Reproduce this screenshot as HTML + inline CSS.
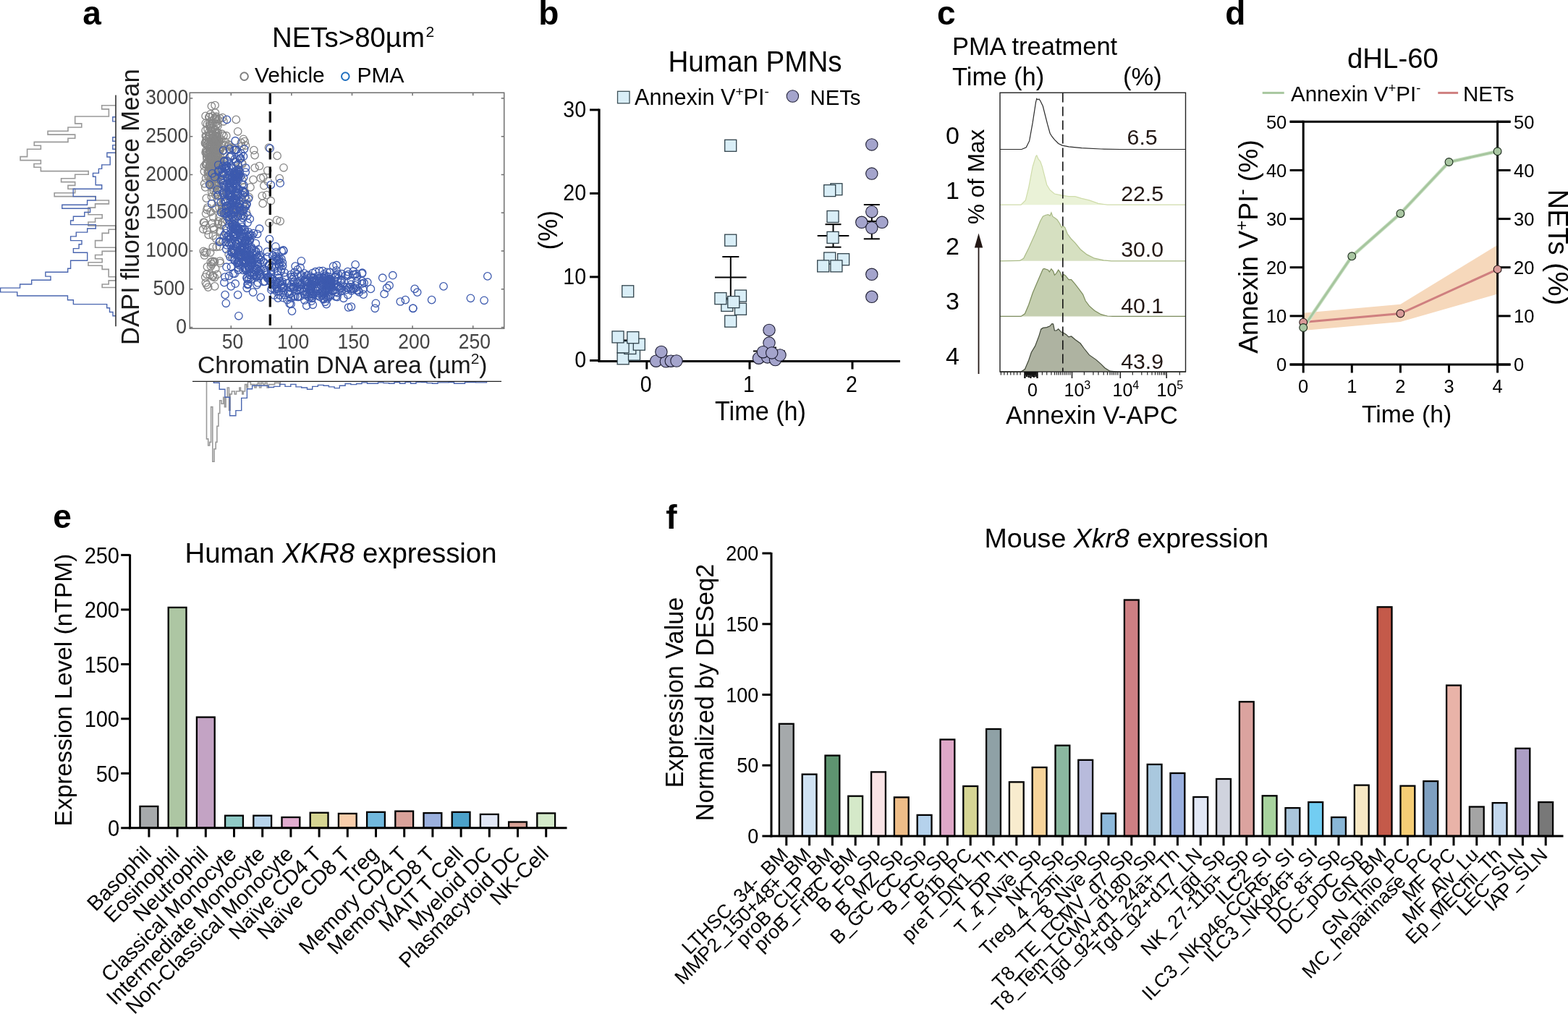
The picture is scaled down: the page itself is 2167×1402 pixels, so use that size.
<!DOCTYPE html>
<html><head><meta charset="utf-8"><title>Figure</title>
<style>html,body{margin:0;padding:0;background:#fff;} svg{display:block;}</style></head>
<body><svg width="2167" height="1402" viewBox="0 0 2167 1402" font-family='"Liberation Sans", Arial, Helvetica, sans-serif'><rect width="2167" height="1402" fill="#fff"/><text font-size="46" x="114.3" y="34.0" font-weight="bold">a</text>
<text font-size="46" x="744.3" y="34.0" font-weight="bold">b</text>
<text font-size="46" x="1295.0" y="34.0" font-weight="bold">c</text>
<text font-size="46" x="1693.3" y="34.0" font-weight="bold">d</text>
<text font-size="46" x="73.3" y="729.8" font-weight="bold">e</text>
<text font-size="46" x="920.2" y="730.8" font-weight="bold">f</text>
<text x="376" y="65.3" font-size="38.4">NETs&gt;80µm<tspan font-size="21" dy="-14" dx="1.5">2</tspan></text>
<circle cx="337.6" cy="105.6" r="5.3" fill="none" stroke="#7f7f7f" stroke-width="2"/>
<text font-size="30" x="352.0" y="114.0">Vehicle</text>
<circle cx="477.3" cy="105.6" r="5.3" fill="none" stroke="#1f6fbf" stroke-width="2"/>
<text font-size="30" x="493.5" y="114.0">PMA</text>
<path d="M160.0,145.7 H140.7 V150.9 H150.4 V161.0 H103.7 V170.9 H112.8 V176.0 H94.0 V181.2 H66.1 V186.1 H103.7 V191.3 H94.0 V196.4 H47.3 V201.2 H56.4 V206.3 H37.6 V216.6 H28.1 V221.6 H56.4 V226.5 H47.0 V231.3 H56.4 V236.6 H122.2 V241.3 H103.7 V246.7 H84.6 V251.6 H103.7 V256.4 H94.0 V261.3 H103.7 V266.7 H75.2 V271.6 H132.2 V277.0 H150.4 V281.9 H131.6 V287.1 H122.0 V296.7 H141.2 V301.8 H131.6 V307.0 H122.0 V312.1 H159.9 V317.2 H150.2 V322.4 H141.2 V332.6 H131.6 V342.3 H159.9 V347.4 H141.2 V352.5 H131.6 V357.7 H141.2 V362.8 H122.0 V367.3 H141.2 V372.4 H150.2 V382.7 H159.9 V387.9 H150.2 V393.0 H141.2 V397.5 H160.0" stroke="#9a9a9a" stroke-width="1.6" fill="none"/>
<path d="M160,161.8 H155.8 V167.9 H160" stroke="#4a66b0" stroke-width="1.4" fill="none"/>
<path d="M160,189.7 H155.8 V195.2 H160" stroke="#4a66b0" stroke-width="1.4" fill="none"/>
<path d="M160,200.6 H155.8 V206.3 H160" stroke="#4a66b0" stroke-width="1.4" fill="none"/>
<path d="M160.0,211.2 H147.9 V217.0 H152.2 V227.9 H140.7 V233.4 H136.4 V239.4 H128.5 V244.3 H132.2 V255.8 H140.7 V261.3 H101.2 V271.6 H132.2 V277.0 H120.6 V283.2 H85.8 V288.3 H124.6 V293.5 H116.8 V299.3 H101.4 V305.0 H97.6 V310.6 H132.3 V316.0 H120.7 V321.1 H105.3 V326.9 H97.6 V332.6 H113.0 V337.8 H109.1 V343.6 H101.4 V349.3 H120.7 V360.3 H97.6 V371.2 H93.7 V376.3 H62.9 V382.1 H70.0 V387.2 H43.7 V393.0 H27.6 V398.1 H0.6 V403.9 H23.8 V409.0 H93.5 V414.8 H101.4 V420.6 H147.7 V425.7 H151.5 V431.5 H156.0 V436.7 H160.0" stroke="#4a66b0" stroke-width="1.4" fill="none"/>
<line x1="160.0" y1="131.5" x2="160.0" y2="451.2" stroke="#333" stroke-width="1.6"/>
<path d="M285.5,527.4 V606.9 H287.7 V616.0 H289.7 V611.4 H291.6 V562.6 H293.8 V638.2 H296.0 V620.8 H298.2 V611.4 H299.9 V589.2 H301.9 V571.5 H303.7 V553.8 H306.0 V558.2 H308.7 V549.3 H310.4 V562.6 H312.1 V549.3 H314.3 V536.0 H316.5 V567.1 H318.1 V544.9 H320.4 V541.0 H324.2 V544.9 H326.5 V541.0 H330.9 V536.0 H332.5 V540.5 H334.8 V544.9 H336.4 V541.0 H338.6 V531.6 H340.9 V536.0 H342.5 V528.3 H346.4 V531.6 H351.9 V536.0 H354.1 V531.6 H356.4 V529.4 H358.6 V536.0 H360.8 V529.4 H363.6 V531.6 H366.3 V529.4 H369.1 V536.0 H371.3 V531.6 H379.6 V529.4 H386.3 V531.6 H387.4 V527.4" stroke="#9a9a9a" stroke-width="1.6" fill="none"/>
<path d="M295.4,527.4 V529.2 H303.2 V538.3 H310.9 V549.3 H317.6 V574.8 H325.9 V567.6 H333.7 V550.4 H341.4 V537.7 H348.6 V533.3 H370.8 V535.5 H378.5 V534.4 H386.8 V531.4 H394.0 V534.4 H401.8 V531.4 H409.0 V534.9 H416.7 V536.0 H424.5 V538.3 H431.7 V534.4 H439.4 V532.4 H447.2 V533.3 H454.4 V534.9 H462.1 V536.6 H469.3 V533.3 H477.1 V530.5 H484.8 V531.6 H492.6 V530.5 H500.0 V528.9 H507.5 V530.2 H515.0 V530.2 H522.5 V528.9 H530.0 V529.6 H537.5 V530.2 H545.0 V528.6 H552.5 V530.2 H560.0 V528.2 H567.5 V530.2 H575.0 V528.2 H582.5 V528.6 H590.0 V529.6 H597.5 V530.2 H605.0 V528.9 H612.5 V528.9 H620.0 V528.6 H627.5 V530.2 H635.0 V530.2 H642.5 V528.6 H650.0 V528.6 H657.5 V528.9 H665.0 V528.9 H672.5 V527.4" stroke="#4a66b0" stroke-width="1.4" fill="none"/>
<line x1="266.0" y1="527.4" x2="693.0" y2="527.4" stroke="#222" stroke-width="1.4"/>
<g fill="none" stroke="#878787" stroke-width="1.3"><circle cx="295.0" cy="213.7" r="5.2"/><circle cx="304.3" cy="227.6" r="5.2"/><circle cx="303.4" cy="205.3" r="5.2"/><circle cx="291.2" cy="250.8" r="5.2"/><circle cx="292.7" cy="217.1" r="5.2"/><circle cx="291.1" cy="221.9" r="5.2"/><circle cx="298.8" cy="229.9" r="5.2"/><circle cx="294.4" cy="177.6" r="5.2"/><circle cx="300.0" cy="189.0" r="5.2"/><circle cx="305.8" cy="262.3" r="5.2"/><circle cx="294.1" cy="223.2" r="5.2"/><circle cx="299.5" cy="203.0" r="5.2"/><circle cx="293.8" cy="223.4" r="5.2"/><circle cx="292.1" cy="196.5" r="5.2"/><circle cx="298.0" cy="221.4" r="5.2"/><circle cx="300.5" cy="190.4" r="5.2"/><circle cx="293.3" cy="221.3" r="5.2"/><circle cx="293.7" cy="160.6" r="5.2"/><circle cx="299.6" cy="255.8" r="5.2"/><circle cx="288.6" cy="195.4" r="5.2"/><circle cx="284.1" cy="160.4" r="5.2"/><circle cx="297.5" cy="204.9" r="5.2"/><circle cx="290.0" cy="200.1" r="5.2"/><circle cx="289.0" cy="217.2" r="5.2"/><circle cx="291.5" cy="174.7" r="5.2"/><circle cx="286.4" cy="225.2" r="5.2"/><circle cx="284.3" cy="170.3" r="5.2"/><circle cx="295.0" cy="223.3" r="5.2"/><circle cx="301.1" cy="202.1" r="5.2"/><circle cx="293.1" cy="218.5" r="5.2"/><circle cx="289.5" cy="174.5" r="5.2"/><circle cx="297.5" cy="227.3" r="5.2"/><circle cx="299.8" cy="211.0" r="5.2"/><circle cx="292.7" cy="265.8" r="5.2"/><circle cx="298.6" cy="189.1" r="5.2"/><circle cx="302.1" cy="217.9" r="5.2"/><circle cx="293.3" cy="187.2" r="5.2"/><circle cx="289.0" cy="182.6" r="5.2"/><circle cx="297.2" cy="211.1" r="5.2"/><circle cx="296.5" cy="210.8" r="5.2"/><circle cx="302.5" cy="239.9" r="5.2"/><circle cx="285.7" cy="216.5" r="5.2"/><circle cx="290.1" cy="187.4" r="5.2"/><circle cx="288.9" cy="219.2" r="5.2"/><circle cx="282.6" cy="253.9" r="5.2"/><circle cx="295.6" cy="207.6" r="5.2"/><circle cx="298.5" cy="183.6" r="5.2"/><circle cx="289.6" cy="232.6" r="5.2"/><circle cx="304.5" cy="206.6" r="5.2"/><circle cx="300.5" cy="275.5" r="5.2"/><circle cx="299.2" cy="242.7" r="5.2"/><circle cx="297.6" cy="241.4" r="5.2"/><circle cx="301.5" cy="218.3" r="5.2"/><circle cx="285.4" cy="210.9" r="5.2"/><circle cx="299.1" cy="223.4" r="5.2"/><circle cx="299.0" cy="254.7" r="5.2"/><circle cx="282.3" cy="229.7" r="5.2"/><circle cx="297.2" cy="200.7" r="5.2"/><circle cx="293.0" cy="254.0" r="5.2"/><circle cx="300.2" cy="218.5" r="5.2"/><circle cx="291.7" cy="209.7" r="5.2"/><circle cx="294.6" cy="186.3" r="5.2"/><circle cx="297.2" cy="193.7" r="5.2"/><circle cx="288.6" cy="191.4" r="5.2"/><circle cx="299.0" cy="245.5" r="5.2"/><circle cx="294.0" cy="230.8" r="5.2"/><circle cx="298.2" cy="205.2" r="5.2"/><circle cx="291.1" cy="246.5" r="5.2"/><circle cx="302.4" cy="226.6" r="5.2"/><circle cx="299.0" cy="224.4" r="5.2"/><circle cx="293.5" cy="204.6" r="5.2"/><circle cx="299.2" cy="229.7" r="5.2"/><circle cx="303.6" cy="265.0" r="5.2"/><circle cx="307.3" cy="272.5" r="5.2"/><circle cx="283.7" cy="258.9" r="5.2"/><circle cx="301.0" cy="174.2" r="5.2"/><circle cx="298.0" cy="230.9" r="5.2"/><circle cx="294.1" cy="213.1" r="5.2"/><circle cx="287.7" cy="243.8" r="5.2"/><circle cx="303.6" cy="208.1" r="5.2"/><circle cx="285.9" cy="219.4" r="5.2"/><circle cx="298.7" cy="163.1" r="5.2"/><circle cx="303.9" cy="226.9" r="5.2"/><circle cx="283.5" cy="197.7" r="5.2"/><circle cx="292.6" cy="223.7" r="5.2"/><circle cx="285.6" cy="227.3" r="5.2"/><circle cx="296.5" cy="208.4" r="5.2"/><circle cx="305.4" cy="222.6" r="5.2"/><circle cx="309.0" cy="211.8" r="5.2"/><circle cx="282.3" cy="237.1" r="5.2"/><circle cx="290.7" cy="228.7" r="5.2"/><circle cx="299.7" cy="194.3" r="5.2"/><circle cx="305.8" cy="193.0" r="5.2"/><circle cx="297.7" cy="269.3" r="5.2"/><circle cx="289.5" cy="208.9" r="5.2"/><circle cx="296.8" cy="244.7" r="5.2"/><circle cx="294.6" cy="225.1" r="5.2"/><circle cx="293.3" cy="193.8" r="5.2"/><circle cx="289.6" cy="187.7" r="5.2"/><circle cx="297.5" cy="216.2" r="5.2"/><circle cx="296.9" cy="220.6" r="5.2"/><circle cx="294.1" cy="232.4" r="5.2"/><circle cx="293.2" cy="170.7" r="5.2"/><circle cx="285.7" cy="192.8" r="5.2"/><circle cx="291.3" cy="209.1" r="5.2"/><circle cx="303.2" cy="264.7" r="5.2"/><circle cx="293.4" cy="226.6" r="5.2"/><circle cx="284.7" cy="194.5" r="5.2"/><circle cx="304.1" cy="226.4" r="5.2"/><circle cx="298.5" cy="196.1" r="5.2"/><circle cx="309.6" cy="224.2" r="5.2"/><circle cx="295.2" cy="263.5" r="5.2"/><circle cx="291.5" cy="223.8" r="5.2"/><circle cx="284.6" cy="226.4" r="5.2"/><circle cx="304.0" cy="224.4" r="5.2"/><circle cx="312.8" cy="187.7" r="5.2"/><circle cx="289.0" cy="230.0" r="5.2"/><circle cx="290.2" cy="205.4" r="5.2"/><circle cx="298.9" cy="185.6" r="5.2"/><circle cx="288.9" cy="211.0" r="5.2"/><circle cx="292.9" cy="204.8" r="5.2"/><circle cx="292.3" cy="236.9" r="5.2"/><circle cx="296.1" cy="210.8" r="5.2"/><circle cx="302.4" cy="194.9" r="5.2"/><circle cx="294.9" cy="259.9" r="5.2"/><circle cx="301.2" cy="244.6" r="5.2"/><circle cx="291.8" cy="253.8" r="5.2"/><circle cx="297.1" cy="232.1" r="5.2"/><circle cx="284.6" cy="208.6" r="5.2"/><circle cx="300.3" cy="198.5" r="5.2"/><circle cx="290.6" cy="203.1" r="5.2"/><circle cx="298.8" cy="243.3" r="5.2"/><circle cx="298.6" cy="215.9" r="5.2"/><circle cx="304.0" cy="163.7" r="5.2"/><circle cx="300.5" cy="211.0" r="5.2"/><circle cx="301.9" cy="165.8" r="5.2"/><circle cx="294.0" cy="217.7" r="5.2"/><circle cx="289.9" cy="172.8" r="5.2"/><circle cx="289.6" cy="170.8" r="5.2"/><circle cx="291.3" cy="216.1" r="5.2"/><circle cx="286.8" cy="209.7" r="5.2"/><circle cx="290.9" cy="157.8" r="5.2"/><circle cx="294.1" cy="236.7" r="5.2"/><circle cx="296.5" cy="163.7" r="5.2"/><circle cx="292.4" cy="271.8" r="5.2"/><circle cx="294.2" cy="189.7" r="5.2"/><circle cx="296.3" cy="196.0" r="5.2"/><circle cx="302.4" cy="206.4" r="5.2"/><circle cx="298.8" cy="164.9" r="5.2"/><circle cx="290.2" cy="254.8" r="5.2"/><circle cx="289.7" cy="228.4" r="5.2"/><circle cx="308.9" cy="187.6" r="5.2"/><circle cx="300.1" cy="203.2" r="5.2"/><circle cx="307.6" cy="162.6" r="5.2"/><circle cx="309.7" cy="200.8" r="5.2"/><circle cx="289.0" cy="242.9" r="5.2"/><circle cx="297.5" cy="156.0" r="5.2"/><circle cx="298.0" cy="197.9" r="5.2"/><circle cx="298.7" cy="217.0" r="5.2"/><circle cx="298.6" cy="246.6" r="5.2"/><circle cx="296.2" cy="256.4" r="5.2"/><circle cx="296.0" cy="197.3" r="5.2"/><circle cx="284.2" cy="188.0" r="5.2"/><circle cx="293.6" cy="227.0" r="5.2"/><circle cx="289.5" cy="200.3" r="5.2"/><circle cx="295.6" cy="202.1" r="5.2"/><circle cx="291.5" cy="247.6" r="5.2"/><circle cx="299.1" cy="267.6" r="5.2"/><circle cx="300.5" cy="220.9" r="5.2"/><circle cx="296.9" cy="205.9" r="5.2"/><circle cx="297.0" cy="230.9" r="5.2"/><circle cx="295.4" cy="211.6" r="5.2"/><circle cx="291.6" cy="177.5" r="5.2"/><circle cx="293.6" cy="235.8" r="5.2"/><circle cx="291.3" cy="216.9" r="5.2"/><circle cx="297.5" cy="205.9" r="5.2"/><circle cx="294.9" cy="235.6" r="5.2"/><circle cx="298.8" cy="265.6" r="5.2"/><circle cx="285.4" cy="188.4" r="5.2"/><circle cx="301.0" cy="234.6" r="5.2"/><circle cx="289.4" cy="235.9" r="5.2"/><circle cx="289.6" cy="161.5" r="5.2"/><circle cx="293.4" cy="242.9" r="5.2"/><circle cx="290.8" cy="256.6" r="5.2"/><circle cx="296.8" cy="219.7" r="5.2"/><circle cx="290.7" cy="210.2" r="5.2"/><circle cx="287.2" cy="238.0" r="5.2"/><circle cx="288.8" cy="161.8" r="5.2"/><circle cx="304.0" cy="215.3" r="5.2"/><circle cx="295.1" cy="246.8" r="5.2"/><circle cx="286.6" cy="171.5" r="5.2"/><circle cx="294.8" cy="244.7" r="5.2"/><circle cx="283.8" cy="198.5" r="5.2"/><circle cx="307.3" cy="208.8" r="5.2"/><circle cx="284.1" cy="180.4" r="5.2"/><circle cx="298.1" cy="222.7" r="5.2"/><circle cx="298.6" cy="173.8" r="5.2"/><circle cx="284.6" cy="246.6" r="5.2"/><circle cx="296.9" cy="188.0" r="5.2"/><circle cx="301.8" cy="223.9" r="5.2"/><circle cx="298.0" cy="192.8" r="5.2"/><circle cx="296.6" cy="201.7" r="5.2"/><circle cx="301.4" cy="251.3" r="5.2"/><circle cx="295.9" cy="219.3" r="5.2"/><circle cx="297.1" cy="199.3" r="5.2"/><circle cx="293.9" cy="171.2" r="5.2"/><circle cx="299.2" cy="250.2" r="5.2"/><circle cx="288.1" cy="236.2" r="5.2"/><circle cx="300.3" cy="201.5" r="5.2"/><circle cx="291.2" cy="220.2" r="5.2"/><circle cx="287.1" cy="178.5" r="5.2"/><circle cx="297.3" cy="179.0" r="5.2"/><circle cx="306.6" cy="185.2" r="5.2"/><circle cx="301.5" cy="223.8" r="5.2"/><circle cx="291.1" cy="221.9" r="5.2"/><circle cx="299.7" cy="187.8" r="5.2"/><circle cx="291.6" cy="236.4" r="5.2"/><circle cx="293.9" cy="237.9" r="5.2"/><circle cx="295.4" cy="217.9" r="5.2"/><circle cx="296.1" cy="246.2" r="5.2"/><circle cx="287.5" cy="202.8" r="5.2"/><circle cx="289.9" cy="208.5" r="5.2"/><circle cx="284.4" cy="227.7" r="5.2"/><circle cx="284.1" cy="211.1" r="5.2"/><circle cx="288.1" cy="238.2" r="5.2"/><circle cx="300.6" cy="171.2" r="5.2"/><circle cx="306.5" cy="258.9" r="5.2"/><circle cx="294.6" cy="186.6" r="5.2"/><circle cx="302.4" cy="206.8" r="5.2"/><circle cx="292.9" cy="167.1" r="5.2"/><circle cx="295.8" cy="231.9" r="5.2"/><circle cx="297.9" cy="254.0" r="5.2"/><circle cx="291.7" cy="247.3" r="5.2"/><circle cx="296.9" cy="239.5" r="5.2"/><circle cx="298.8" cy="161.2" r="5.2"/><circle cx="288.7" cy="186.6" r="5.2"/><circle cx="284.4" cy="197.1" r="5.2"/><circle cx="293.2" cy="181.6" r="5.2"/><circle cx="293.3" cy="249.0" r="5.2"/><circle cx="292.3" cy="218.3" r="5.2"/><circle cx="301.7" cy="211.4" r="5.2"/><circle cx="306.9" cy="228.2" r="5.2"/><circle cx="291.8" cy="181.1" r="5.2"/><circle cx="299.7" cy="182.5" r="5.2"/><circle cx="301.4" cy="183.4" r="5.2"/><circle cx="299.8" cy="228.5" r="5.2"/><circle cx="302.1" cy="223.4" r="5.2"/><circle cx="292.0" cy="231.2" r="5.2"/><circle cx="299.9" cy="247.6" r="5.2"/><circle cx="309.0" cy="167.8" r="5.2"/><circle cx="300.4" cy="193.9" r="5.2"/><circle cx="290.4" cy="217.1" r="5.2"/><circle cx="299.0" cy="168.1" r="5.2"/><circle cx="303.6" cy="194.8" r="5.2"/><circle cx="297.3" cy="245.4" r="5.2"/><circle cx="290.8" cy="248.3" r="5.2"/><circle cx="305.6" cy="247.5" r="5.2"/><circle cx="286.0" cy="213.6" r="5.2"/><circle cx="298.3" cy="205.3" r="5.2"/><circle cx="294.6" cy="247.6" r="5.2"/><circle cx="286.4" cy="200.0" r="5.2"/><circle cx="303.3" cy="223.3" r="5.2"/><circle cx="297.2" cy="255.6" r="5.2"/><circle cx="286.6" cy="200.2" r="5.2"/><circle cx="299.0" cy="192.2" r="5.2"/><circle cx="291.7" cy="211.9" r="5.2"/><circle cx="289.9" cy="231.8" r="5.2"/><circle cx="296.6" cy="228.0" r="5.2"/><circle cx="299.2" cy="217.3" r="5.2"/><circle cx="295.9" cy="230.5" r="5.2"/><circle cx="281.2" cy="347.3" r="5.2"/><circle cx="286.4" cy="368.9" r="5.2"/><circle cx="293.6" cy="361.2" r="5.2"/><circle cx="285.9" cy="289.9" r="5.2"/><circle cx="283.0" cy="349.2" r="5.2"/><circle cx="283.9" cy="311.7" r="5.2"/><circle cx="286.0" cy="318.4" r="5.2"/><circle cx="291.2" cy="292.8" r="5.2"/><circle cx="285.2" cy="274.1" r="5.2"/><circle cx="294.1" cy="380.9" r="5.2"/><circle cx="304.3" cy="363.7" r="5.2"/><circle cx="291.4" cy="368.1" r="5.2"/><circle cx="301.4" cy="309.5" r="5.2"/><circle cx="294.4" cy="325.8" r="5.2"/><circle cx="284.6" cy="295.3" r="5.2"/><circle cx="290.6" cy="349.1" r="5.2"/><circle cx="285.5" cy="379.1" r="5.2"/><circle cx="297.8" cy="371.5" r="5.2"/><circle cx="284.3" cy="391.0" r="5.2"/><circle cx="301.7" cy="306.0" r="5.2"/><circle cx="296.5" cy="361.7" r="5.2"/><circle cx="297.9" cy="289.1" r="5.2"/><circle cx="303.3" cy="340.8" r="5.2"/><circle cx="286.9" cy="287.0" r="5.2"/><circle cx="299.3" cy="341.3" r="5.2"/><circle cx="294.2" cy="341.6" r="5.2"/><circle cx="280.8" cy="316.9" r="5.2"/><circle cx="295.8" cy="317.2" r="5.2"/><circle cx="295.2" cy="362.9" r="5.2"/><circle cx="308.5" cy="333.8" r="5.2"/><circle cx="288.2" cy="324.6" r="5.2"/><circle cx="298.2" cy="287.3" r="5.2"/><circle cx="293.2" cy="308.7" r="5.2"/><circle cx="290.1" cy="380.1" r="5.2"/><circle cx="296.7" cy="395.9" r="5.2"/><circle cx="303.9" cy="320.2" r="5.2"/><circle cx="283.7" cy="383.1" r="5.2"/><circle cx="296.4" cy="383.5" r="5.2"/><circle cx="294.8" cy="300.6" r="5.2"/><circle cx="282.4" cy="307.7" r="5.2"/><circle cx="303.8" cy="361.0" r="5.2"/><circle cx="306.1" cy="311.7" r="5.2"/><circle cx="285.7" cy="393.8" r="5.2"/><circle cx="304.6" cy="319.2" r="5.2"/><circle cx="292.8" cy="365.3" r="5.2"/><circle cx="291.3" cy="362.4" r="5.2"/><circle cx="303.0" cy="300.1" r="5.2"/><circle cx="294.0" cy="382.5" r="5.2"/><circle cx="294.7" cy="314.6" r="5.2"/><circle cx="303.1" cy="287.0" r="5.2"/><circle cx="301.5" cy="279.4" r="5.2"/><circle cx="298.7" cy="330.1" r="5.2"/><circle cx="282.6" cy="353.0" r="5.2"/><circle cx="281.4" cy="307.4" r="5.2"/><circle cx="300.3" cy="379.4" r="5.2"/><circle cx="315.6" cy="199.7" r="5.2"/><circle cx="338.0" cy="265.3" r="5.2"/><circle cx="306.6" cy="288.9" r="5.2"/><circle cx="315.4" cy="331.2" r="5.2"/><circle cx="311.4" cy="196.3" r="5.2"/><circle cx="322.6" cy="326.9" r="5.2"/><circle cx="318.8" cy="286.5" r="5.2"/><circle cx="320.5" cy="288.0" r="5.2"/><circle cx="338.2" cy="195.5" r="5.2"/><circle cx="327.7" cy="340.9" r="5.2"/><circle cx="328.7" cy="235.2" r="5.2"/><circle cx="320.3" cy="282.4" r="5.2"/><circle cx="336.5" cy="281.0" r="5.2"/><circle cx="324.7" cy="346.2" r="5.2"/><circle cx="334.1" cy="292.0" r="5.2"/><circle cx="340.6" cy="360.5" r="5.2"/><circle cx="328.9" cy="227.2" r="5.2"/><circle cx="322.1" cy="302.7" r="5.2"/><circle cx="315.5" cy="287.7" r="5.2"/><circle cx="340.5" cy="276.6" r="5.2"/><circle cx="334.8" cy="296.6" r="5.2"/><circle cx="336.2" cy="283.1" r="5.2"/><circle cx="313.8" cy="245.6" r="5.2"/><circle cx="322.1" cy="299.1" r="5.2"/><circle cx="339.4" cy="201.1" r="5.2"/><circle cx="314.8" cy="270.6" r="5.2"/><circle cx="336.7" cy="266.0" r="5.2"/><circle cx="326.1" cy="223.9" r="5.2"/><circle cx="313.7" cy="286.2" r="5.2"/><circle cx="319.8" cy="304.1" r="5.2"/><circle cx="308.2" cy="208.4" r="5.2"/><circle cx="331.3" cy="238.6" r="5.2"/><circle cx="333.3" cy="197.4" r="5.2"/><circle cx="306.4" cy="291.3" r="5.2"/><circle cx="316.9" cy="200.8" r="5.2"/><circle cx="335.0" cy="226.7" r="5.2"/><circle cx="313.0" cy="265.1" r="5.2"/><circle cx="326.0" cy="265.8" r="5.2"/><circle cx="336.4" cy="192.3" r="5.2"/><circle cx="327.3" cy="352.7" r="5.2"/><circle cx="310.0" cy="226.9" r="5.2"/><circle cx="340.4" cy="293.5" r="5.2"/><circle cx="334.1" cy="225.5" r="5.2"/><circle cx="327.1" cy="291.0" r="5.2"/><circle cx="318.1" cy="248.4" r="5.2"/><circle cx="327.8" cy="242.4" r="5.2"/><circle cx="320.4" cy="269.7" r="5.2"/><circle cx="309.9" cy="289.4" r="5.2"/><circle cx="310.0" cy="291.5" r="5.2"/><circle cx="307.0" cy="307.3" r="5.2"/><circle cx="311.9" cy="233.6" r="5.2"/><circle cx="314.8" cy="202.6" r="5.2"/><circle cx="329.8" cy="231.0" r="5.2"/><circle cx="327.7" cy="243.8" r="5.2"/><circle cx="328.1" cy="293.1" r="5.2"/><circle cx="337.0" cy="259.2" r="5.2"/><circle cx="309.0" cy="241.1" r="5.2"/><circle cx="320.3" cy="203.8" r="5.2"/><circle cx="308.3" cy="291.2" r="5.2"/><circle cx="321.5" cy="205.8" r="5.2"/><circle cx="308.3" cy="277.2" r="5.2"/><circle cx="307.8" cy="307.3" r="5.2"/><circle cx="309.3" cy="295.8" r="5.2"/><circle cx="320.3" cy="214.5" r="5.2"/><circle cx="334.7" cy="249.0" r="5.2"/><circle cx="316.2" cy="351.6" r="5.2"/><circle cx="333.9" cy="202.4" r="5.2"/><circle cx="314.3" cy="305.6" r="5.2"/><circle cx="316.4" cy="263.1" r="5.2"/><circle cx="323.5" cy="294.2" r="5.2"/><circle cx="363.2" cy="281.4" r="5.2"/><circle cx="350.0" cy="248.4" r="5.2"/><circle cx="371.5" cy="204.1" r="5.2"/><circle cx="344.2" cy="272.6" r="5.2"/><circle cx="386.3" cy="246.6" r="5.2"/><circle cx="383.1" cy="215.4" r="5.2"/><circle cx="362.3" cy="270.8" r="5.2"/><circle cx="370.3" cy="250.8" r="5.2"/><circle cx="369.8" cy="235.8" r="5.2"/><circle cx="392.0" cy="231.8" r="5.2"/><circle cx="346.0" cy="258.9" r="5.2"/><circle cx="358.5" cy="229.5" r="5.2"/><circle cx="363.9" cy="245.2" r="5.2"/><circle cx="382.6" cy="304.3" r="5.2"/><circle cx="292.4" cy="146.7" r="5.2"/><circle cx="297.1" cy="145.5" r="5.2"/><circle cx="326.3" cy="165.4" r="5.2"/><circle cx="328.7" cy="181.8" r="5.2"/><circle cx="350.9" cy="207.6" r="5.2"/><circle cx="352.1" cy="214.6" r="5.2"/><circle cx="352.1" cy="232.1" r="5.2"/><circle cx="360.3" cy="246.2" r="5.2"/><circle cx="364.9" cy="256.7" r="5.2"/><circle cx="374.3" cy="277.7" r="5.2"/><circle cx="387.2" cy="305.8" r="5.2"/><circle cx="368.5" cy="269.6" r="5.2"/><circle cx="372.0" cy="308.2" r="5.2"/><circle cx="287.7" cy="397.1" r="5.2"/><circle cx="285.4" cy="349.1" r="5.2"/></g><g fill="none" stroke="#3d5aae" stroke-width="1.3"><circle cx="317.2" cy="304.8" r="5.2"/><circle cx="338.6" cy="266.6" r="5.2"/><circle cx="321.6" cy="309.0" r="5.2"/><circle cx="368.9" cy="379.7" r="5.2"/><circle cx="347.3" cy="363.9" r="5.2"/><circle cx="335.0" cy="342.2" r="5.2"/><circle cx="354.9" cy="371.3" r="5.2"/><circle cx="343.1" cy="352.8" r="5.2"/><circle cx="344.4" cy="332.4" r="5.2"/><circle cx="341.9" cy="297.9" r="5.2"/><circle cx="316.3" cy="269.4" r="5.2"/><circle cx="320.6" cy="348.8" r="5.2"/><circle cx="303.3" cy="334.7" r="5.2"/><circle cx="358.2" cy="381.8" r="5.2"/><circle cx="330.5" cy="285.5" r="5.2"/><circle cx="347.3" cy="359.5" r="5.2"/><circle cx="322.3" cy="259.7" r="5.2"/><circle cx="351.9" cy="379.6" r="5.2"/><circle cx="364.4" cy="389.5" r="5.2"/><circle cx="314.9" cy="235.8" r="5.2"/><circle cx="326.9" cy="279.9" r="5.2"/><circle cx="354.1" cy="382.9" r="5.2"/><circle cx="369.3" cy="379.3" r="5.2"/><circle cx="316.1" cy="327.4" r="5.2"/><circle cx="317.9" cy="243.3" r="5.2"/><circle cx="310.7" cy="231.4" r="5.2"/><circle cx="318.2" cy="259.2" r="5.2"/><circle cx="344.5" cy="371.0" r="5.2"/><circle cx="325.5" cy="351.3" r="5.2"/><circle cx="322.6" cy="290.9" r="5.2"/><circle cx="323.8" cy="349.8" r="5.2"/><circle cx="371.6" cy="367.6" r="5.2"/><circle cx="318.5" cy="276.7" r="5.2"/><circle cx="336.7" cy="360.0" r="5.2"/><circle cx="316.7" cy="268.1" r="5.2"/><circle cx="312.6" cy="284.6" r="5.2"/><circle cx="293.4" cy="239.9" r="5.2"/><circle cx="317.4" cy="252.8" r="5.2"/><circle cx="330.5" cy="318.0" r="5.2"/><circle cx="302.3" cy="235.6" r="5.2"/><circle cx="327.4" cy="316.0" r="5.2"/><circle cx="308.2" cy="266.4" r="5.2"/><circle cx="333.4" cy="344.1" r="5.2"/><circle cx="322.8" cy="253.0" r="5.2"/><circle cx="325.6" cy="265.2" r="5.2"/><circle cx="326.3" cy="270.9" r="5.2"/><circle cx="321.3" cy="313.9" r="5.2"/><circle cx="345.6" cy="359.7" r="5.2"/><circle cx="329.6" cy="348.6" r="5.2"/><circle cx="336.8" cy="345.5" r="5.2"/><circle cx="337.5" cy="336.2" r="5.2"/><circle cx="324.3" cy="314.8" r="5.2"/><circle cx="310.7" cy="278.4" r="5.2"/><circle cx="326.3" cy="260.2" r="5.2"/><circle cx="330.5" cy="353.6" r="5.2"/><circle cx="315.7" cy="293.8" r="5.2"/><circle cx="319.0" cy="322.4" r="5.2"/><circle cx="326.3" cy="239.2" r="5.2"/><circle cx="322.0" cy="290.6" r="5.2"/><circle cx="296.6" cy="244.7" r="5.2"/><circle cx="330.8" cy="282.6" r="5.2"/><circle cx="353.2" cy="346.9" r="5.2"/><circle cx="341.0" cy="281.8" r="5.2"/><circle cx="325.0" cy="333.6" r="5.2"/><circle cx="319.9" cy="247.4" r="5.2"/><circle cx="329.1" cy="298.9" r="5.2"/><circle cx="333.3" cy="297.9" r="5.2"/><circle cx="326.8" cy="312.1" r="5.2"/><circle cx="310.5" cy="258.9" r="5.2"/><circle cx="338.4" cy="342.1" r="5.2"/><circle cx="350.4" cy="359.3" r="5.2"/><circle cx="324.1" cy="358.9" r="5.2"/><circle cx="313.6" cy="228.9" r="5.2"/><circle cx="328.6" cy="317.4" r="5.2"/><circle cx="323.3" cy="273.9" r="5.2"/><circle cx="333.1" cy="326.2" r="5.2"/><circle cx="326.1" cy="248.2" r="5.2"/><circle cx="338.0" cy="332.9" r="5.2"/><circle cx="323.5" cy="293.6" r="5.2"/><circle cx="341.3" cy="384.8" r="5.2"/><circle cx="323.0" cy="240.2" r="5.2"/><circle cx="338.4" cy="285.4" r="5.2"/><circle cx="345.3" cy="302.7" r="5.2"/><circle cx="337.8" cy="352.1" r="5.2"/><circle cx="333.8" cy="341.4" r="5.2"/><circle cx="334.5" cy="254.9" r="5.2"/><circle cx="336.8" cy="288.9" r="5.2"/><circle cx="336.3" cy="345.0" r="5.2"/><circle cx="331.6" cy="294.1" r="5.2"/><circle cx="314.4" cy="269.2" r="5.2"/><circle cx="357.5" cy="378.2" r="5.2"/><circle cx="330.7" cy="364.8" r="5.2"/><circle cx="322.1" cy="280.1" r="5.2"/><circle cx="326.2" cy="324.0" r="5.2"/><circle cx="346.9" cy="367.7" r="5.2"/><circle cx="300.2" cy="262.4" r="5.2"/><circle cx="340.3" cy="373.6" r="5.2"/><circle cx="347.9" cy="377.2" r="5.2"/><circle cx="331.9" cy="340.7" r="5.2"/><circle cx="326.8" cy="338.2" r="5.2"/><circle cx="334.8" cy="344.0" r="5.2"/><circle cx="334.0" cy="318.3" r="5.2"/><circle cx="336.5" cy="327.1" r="5.2"/><circle cx="312.7" cy="267.1" r="5.2"/><circle cx="327.9" cy="319.0" r="5.2"/><circle cx="327.0" cy="338.2" r="5.2"/><circle cx="317.2" cy="310.9" r="5.2"/><circle cx="315.7" cy="335.3" r="5.2"/><circle cx="324.3" cy="310.7" r="5.2"/><circle cx="328.0" cy="343.0" r="5.2"/><circle cx="353.3" cy="336.5" r="5.2"/><circle cx="317.4" cy="252.8" r="5.2"/><circle cx="332.6" cy="351.9" r="5.2"/><circle cx="318.3" cy="270.8" r="5.2"/><circle cx="336.6" cy="245.4" r="5.2"/><circle cx="309.7" cy="255.6" r="5.2"/><circle cx="321.3" cy="277.3" r="5.2"/><circle cx="319.2" cy="316.1" r="5.2"/><circle cx="321.8" cy="280.8" r="5.2"/><circle cx="320.3" cy="261.3" r="5.2"/><circle cx="345.6" cy="349.0" r="5.2"/><circle cx="309.9" cy="294.8" r="5.2"/><circle cx="342.8" cy="359.0" r="5.2"/><circle cx="337.4" cy="266.2" r="5.2"/><circle cx="325.7" cy="341.0" r="5.2"/><circle cx="321.8" cy="278.6" r="5.2"/><circle cx="330.5" cy="352.5" r="5.2"/><circle cx="303.9" cy="333.7" r="5.2"/><circle cx="329.4" cy="335.4" r="5.2"/><circle cx="330.0" cy="244.1" r="5.2"/><circle cx="329.2" cy="347.4" r="5.2"/><circle cx="305.3" cy="279.6" r="5.2"/><circle cx="335.8" cy="361.9" r="5.2"/><circle cx="339.6" cy="355.3" r="5.2"/><circle cx="328.9" cy="246.9" r="5.2"/><circle cx="325.8" cy="224.6" r="5.2"/><circle cx="331.5" cy="345.2" r="5.2"/><circle cx="366.0" cy="389.1" r="5.2"/><circle cx="329.4" cy="369.7" r="5.2"/><circle cx="335.8" cy="301.3" r="5.2"/><circle cx="340.1" cy="356.5" r="5.2"/><circle cx="327.7" cy="244.8" r="5.2"/><circle cx="328.2" cy="240.6" r="5.2"/><circle cx="325.3" cy="313.1" r="5.2"/><circle cx="325.4" cy="316.5" r="5.2"/><circle cx="329.2" cy="355.8" r="5.2"/><circle cx="301.0" cy="270.2" r="5.2"/><circle cx="324.1" cy="302.8" r="5.2"/><circle cx="370.1" cy="384.9" r="5.2"/><circle cx="311.9" cy="278.1" r="5.2"/><circle cx="331.3" cy="287.7" r="5.2"/><circle cx="329.7" cy="315.6" r="5.2"/><circle cx="374.7" cy="389.9" r="5.2"/><circle cx="312.7" cy="258.0" r="5.2"/><circle cx="313.4" cy="338.9" r="5.2"/><circle cx="332.1" cy="291.8" r="5.2"/><circle cx="330.3" cy="280.6" r="5.2"/><circle cx="320.7" cy="262.8" r="5.2"/><circle cx="321.3" cy="310.6" r="5.2"/><circle cx="325.2" cy="314.7" r="5.2"/><circle cx="322.8" cy="288.9" r="5.2"/><circle cx="321.3" cy="300.1" r="5.2"/><circle cx="309.6" cy="325.7" r="5.2"/><circle cx="347.3" cy="359.9" r="5.2"/><circle cx="312.9" cy="315.9" r="5.2"/><circle cx="320.7" cy="289.2" r="5.2"/><circle cx="356.9" cy="375.3" r="5.2"/><circle cx="322.6" cy="253.8" r="5.2"/><circle cx="301.6" cy="237.5" r="5.2"/><circle cx="360.2" cy="372.7" r="5.2"/><circle cx="328.4" cy="270.8" r="5.2"/><circle cx="327.2" cy="264.1" r="5.2"/><circle cx="336.5" cy="291.3" r="5.2"/><circle cx="315.4" cy="284.4" r="5.2"/><circle cx="292.7" cy="281.5" r="5.2"/><circle cx="342.8" cy="368.0" r="5.2"/><circle cx="335.3" cy="269.4" r="5.2"/><circle cx="330.7" cy="241.6" r="5.2"/><circle cx="315.8" cy="258.1" r="5.2"/><circle cx="355.4" cy="380.8" r="5.2"/><circle cx="327.7" cy="290.1" r="5.2"/><circle cx="305.9" cy="293.8" r="5.2"/><circle cx="328.7" cy="350.4" r="5.2"/><circle cx="346.3" cy="366.1" r="5.2"/><circle cx="342.1" cy="308.0" r="5.2"/><circle cx="330.9" cy="366.8" r="5.2"/><circle cx="337.4" cy="266.4" r="5.2"/><circle cx="323.6" cy="277.0" r="5.2"/><circle cx="311.7" cy="322.5" r="5.2"/><circle cx="343.3" cy="274.7" r="5.2"/><circle cx="312.7" cy="279.0" r="5.2"/><circle cx="326.6" cy="257.6" r="5.2"/><circle cx="338.8" cy="272.1" r="5.2"/><circle cx="333.5" cy="362.0" r="5.2"/><circle cx="324.2" cy="360.1" r="5.2"/><circle cx="329.2" cy="260.7" r="5.2"/><circle cx="324.2" cy="283.8" r="5.2"/><circle cx="320.3" cy="349.7" r="5.2"/><circle cx="330.3" cy="361.3" r="5.2"/><circle cx="324.0" cy="320.5" r="5.2"/><circle cx="342.1" cy="337.3" r="5.2"/><circle cx="318.7" cy="262.7" r="5.2"/><circle cx="342.0" cy="353.7" r="5.2"/><circle cx="354.0" cy="352.0" r="5.2"/><circle cx="337.0" cy="298.6" r="5.2"/><circle cx="335.7" cy="263.7" r="5.2"/><circle cx="329.5" cy="236.1" r="5.2"/><circle cx="313.6" cy="327.3" r="5.2"/><circle cx="341.5" cy="326.3" r="5.2"/><circle cx="320.2" cy="231.5" r="5.2"/><circle cx="325.6" cy="317.2" r="5.2"/><circle cx="342.4" cy="393.6" r="5.2"/><circle cx="301.7" cy="228.0" r="5.2"/><circle cx="308.6" cy="253.5" r="5.2"/><circle cx="317.7" cy="238.4" r="5.2"/><circle cx="313.5" cy="292.6" r="5.2"/><circle cx="316.1" cy="291.6" r="5.2"/><circle cx="336.5" cy="359.8" r="5.2"/><circle cx="324.6" cy="240.3" r="5.2"/><circle cx="317.9" cy="268.7" r="5.2"/><circle cx="351.6" cy="363.6" r="5.2"/><circle cx="330.1" cy="234.9" r="5.2"/><circle cx="318.8" cy="273.2" r="5.2"/><circle cx="330.2" cy="285.8" r="5.2"/><circle cx="306.6" cy="233.7" r="5.2"/><circle cx="325.7" cy="276.9" r="5.2"/><circle cx="330.0" cy="321.6" r="5.2"/><circle cx="330.8" cy="332.6" r="5.2"/><circle cx="324.4" cy="316.9" r="5.2"/><circle cx="319.8" cy="334.8" r="5.2"/><circle cx="326.1" cy="324.1" r="5.2"/><circle cx="312.8" cy="229.7" r="5.2"/><circle cx="340.2" cy="330.6" r="5.2"/><circle cx="337.3" cy="318.6" r="5.2"/><circle cx="309.3" cy="268.9" r="5.2"/><circle cx="330.9" cy="286.6" r="5.2"/><circle cx="316.9" cy="266.1" r="5.2"/><circle cx="346.7" cy="361.9" r="5.2"/><circle cx="317.6" cy="282.8" r="5.2"/><circle cx="305.6" cy="249.1" r="5.2"/><circle cx="346.4" cy="359.7" r="5.2"/><circle cx="338.9" cy="337.8" r="5.2"/><circle cx="327.7" cy="364.1" r="5.2"/><circle cx="312.0" cy="334.3" r="5.2"/><circle cx="319.5" cy="297.1" r="5.2"/><circle cx="314.2" cy="299.8" r="5.2"/><circle cx="324.1" cy="304.8" r="5.2"/><circle cx="334.7" cy="313.5" r="5.2"/><circle cx="369.5" cy="384.1" r="5.2"/><circle cx="318.6" cy="272.7" r="5.2"/><circle cx="348.4" cy="344.1" r="5.2"/><circle cx="328.5" cy="238.4" r="5.2"/><circle cx="316.3" cy="255.5" r="5.2"/><circle cx="338.4" cy="372.0" r="5.2"/><circle cx="330.2" cy="262.1" r="5.2"/><circle cx="332.6" cy="316.3" r="5.2"/><circle cx="372.9" cy="383.5" r="5.2"/><circle cx="344.1" cy="325.9" r="5.2"/><circle cx="333.8" cy="307.6" r="5.2"/><circle cx="347.9" cy="344.5" r="5.2"/><circle cx="355.0" cy="393.9" r="5.2"/><circle cx="355.7" cy="361.7" r="5.2"/><circle cx="317.8" cy="259.2" r="5.2"/><circle cx="336.7" cy="255.8" r="5.2"/><circle cx="328.1" cy="266.2" r="5.2"/><circle cx="289.6" cy="255.2" r="5.2"/><circle cx="348.2" cy="349.6" r="5.2"/><circle cx="329.6" cy="363.4" r="5.2"/><circle cx="327.3" cy="248.7" r="5.2"/><circle cx="313.6" cy="244.1" r="5.2"/><circle cx="325.6" cy="276.9" r="5.2"/><circle cx="337.1" cy="340.0" r="5.2"/><circle cx="337.0" cy="350.3" r="5.2"/><circle cx="316.2" cy="299.3" r="5.2"/><circle cx="343.5" cy="320.8" r="5.2"/><circle cx="353.9" cy="381.7" r="5.2"/><circle cx="344.1" cy="372.8" r="5.2"/><circle cx="326.2" cy="253.7" r="5.2"/><circle cx="326.8" cy="336.6" r="5.2"/><circle cx="354.0" cy="348.3" r="5.2"/><circle cx="350.7" cy="380.3" r="5.2"/><circle cx="328.5" cy="299.3" r="5.2"/><circle cx="323.5" cy="249.5" r="5.2"/><circle cx="316.9" cy="303.8" r="5.2"/><circle cx="312.5" cy="288.4" r="5.2"/><circle cx="326.6" cy="290.0" r="5.2"/><circle cx="340.4" cy="348.8" r="5.2"/><circle cx="343.4" cy="338.4" r="5.2"/><circle cx="335.2" cy="338.9" r="5.2"/><circle cx="319.5" cy="330.0" r="5.2"/><circle cx="324.9" cy="243.1" r="5.2"/><circle cx="326.2" cy="236.0" r="5.2"/><circle cx="334.4" cy="291.4" r="5.2"/><circle cx="342.9" cy="366.7" r="5.2"/><circle cx="318.1" cy="328.4" r="5.2"/><circle cx="347.7" cy="359.1" r="5.2"/><circle cx="322.3" cy="327.4" r="5.2"/><circle cx="341.6" cy="347.2" r="5.2"/><circle cx="355.5" cy="367.9" r="5.2"/><circle cx="339.6" cy="333.7" r="5.2"/><circle cx="333.7" cy="354.8" r="5.2"/><circle cx="374.4" cy="379.8" r="5.2"/><circle cx="350.9" cy="346.8" r="5.2"/><circle cx="349.0" cy="364.2" r="5.2"/><circle cx="307.0" cy="242.5" r="5.2"/><circle cx="308.3" cy="229.3" r="5.2"/><circle cx="342.4" cy="386.8" r="5.2"/><circle cx="328.3" cy="269.0" r="5.2"/><circle cx="326.3" cy="276.1" r="5.2"/><circle cx="321.2" cy="249.9" r="5.2"/><circle cx="332.8" cy="320.6" r="5.2"/><circle cx="323.1" cy="238.8" r="5.2"/><circle cx="343.1" cy="356.1" r="5.2"/><circle cx="339.4" cy="285.9" r="5.2"/><circle cx="333.2" cy="351.8" r="5.2"/><circle cx="351.0" cy="376.2" r="5.2"/><circle cx="312.8" cy="344.5" r="5.2"/><circle cx="312.0" cy="294.4" r="5.2"/><circle cx="322.6" cy="324.4" r="5.2"/><circle cx="328.7" cy="362.3" r="5.2"/><circle cx="334.1" cy="333.1" r="5.2"/><circle cx="332.2" cy="268.7" r="5.2"/><circle cx="312.8" cy="229.8" r="5.2"/><circle cx="339.4" cy="370.3" r="5.2"/><circle cx="324.3" cy="326.8" r="5.2"/><circle cx="319.3" cy="229.2" r="5.2"/><circle cx="322.3" cy="315.8" r="5.2"/><circle cx="332.7" cy="329.8" r="5.2"/><circle cx="325.6" cy="265.2" r="5.2"/><circle cx="348.5" cy="363.0" r="5.2"/><circle cx="329.2" cy="267.7" r="5.2"/><circle cx="320.0" cy="245.1" r="5.2"/><circle cx="324.3" cy="275.2" r="5.2"/><circle cx="340.7" cy="283.2" r="5.2"/><circle cx="344.3" cy="359.4" r="5.2"/><circle cx="337.9" cy="333.8" r="5.2"/><circle cx="319.7" cy="251.9" r="5.2"/><circle cx="319.8" cy="284.0" r="5.2"/><circle cx="314.3" cy="246.7" r="5.2"/><circle cx="323.4" cy="346.0" r="5.2"/><circle cx="323.5" cy="323.1" r="5.2"/><circle cx="336.3" cy="363.1" r="5.2"/><circle cx="339.9" cy="333.1" r="5.2"/><circle cx="316.5" cy="381.4" r="5.2"/><circle cx="339.2" cy="354.1" r="5.2"/><circle cx="317.5" cy="337.9" r="5.2"/><circle cx="358.6" cy="316.2" r="5.2"/><circle cx="336.2" cy="373.5" r="5.2"/><circle cx="319.4" cy="368.8" r="5.2"/><circle cx="311.0" cy="383.0" r="5.2"/><circle cx="319.8" cy="347.5" r="5.2"/><circle cx="325.2" cy="392.2" r="5.2"/><circle cx="338.3" cy="317.2" r="5.2"/><circle cx="342.9" cy="392.6" r="5.2"/><circle cx="345.4" cy="379.6" r="5.2"/><circle cx="331.5" cy="323.8" r="5.2"/><circle cx="341.2" cy="398.3" r="5.2"/><circle cx="337.3" cy="322.7" r="5.2"/><circle cx="324.1" cy="378.4" r="5.2"/><circle cx="320.1" cy="335.8" r="5.2"/><circle cx="329.3" cy="373.4" r="5.2"/><circle cx="344.3" cy="385.7" r="5.2"/><circle cx="315.7" cy="325.1" r="5.2"/><circle cx="341.5" cy="342.5" r="5.2"/><circle cx="309.9" cy="390.6" r="5.2"/><circle cx="318.2" cy="355.4" r="5.2"/><circle cx="343.3" cy="328.1" r="5.2"/><circle cx="350.4" cy="322.5" r="5.2"/><circle cx="348.3" cy="325.5" r="5.2"/><circle cx="344.0" cy="324.1" r="5.2"/><circle cx="321.9" cy="345.2" r="5.2"/><circle cx="359.6" cy="380.6" r="5.2"/><circle cx="339.7" cy="353.3" r="5.2"/><circle cx="355.6" cy="323.5" r="5.2"/><circle cx="357.0" cy="344.9" r="5.2"/><circle cx="321.1" cy="355.9" r="5.2"/><circle cx="358.7" cy="352.9" r="5.2"/><circle cx="313.0" cy="369.2" r="5.2"/><circle cx="341.6" cy="372.5" r="5.2"/><circle cx="322.0" cy="378.2" r="5.2"/><circle cx="324.6" cy="219.8" r="5.2"/><circle cx="307.5" cy="247.7" r="5.2"/><circle cx="332.6" cy="219.0" r="5.2"/><circle cx="333.0" cy="211.9" r="5.2"/><circle cx="331.2" cy="237.6" r="5.2"/><circle cx="321.3" cy="246.1" r="5.2"/><circle cx="336.5" cy="216.2" r="5.2"/><circle cx="309.7" cy="223.2" r="5.2"/><circle cx="331.6" cy="219.2" r="5.2"/><circle cx="326.7" cy="206.8" r="5.2"/><circle cx="330.2" cy="242.0" r="5.2"/><circle cx="308.7" cy="207.9" r="5.2"/><circle cx="339.3" cy="238.1" r="5.2"/><circle cx="307.5" cy="239.0" r="5.2"/><circle cx="312.5" cy="233.7" r="5.2"/><circle cx="324.0" cy="207.5" r="5.2"/><circle cx="325.9" cy="207.2" r="5.2"/><circle cx="312.5" cy="232.9" r="5.2"/><circle cx="316.2" cy="231.6" r="5.2"/><circle cx="337.5" cy="206.0" r="5.2"/><circle cx="317.4" cy="205.8" r="5.2"/><circle cx="321.6" cy="246.8" r="5.2"/><circle cx="310.2" cy="222.7" r="5.2"/><circle cx="325.8" cy="243.8" r="5.2"/><circle cx="330.2" cy="215.9" r="5.2"/><circle cx="331.6" cy="219.5" r="5.2"/><circle cx="314.3" cy="253.5" r="5.2"/><circle cx="319.0" cy="215.9" r="5.2"/><circle cx="328.7" cy="227.2" r="5.2"/><circle cx="339.5" cy="232.0" r="5.2"/><circle cx="332.6" cy="243.5" r="5.2"/><circle cx="313.9" cy="222.5" r="5.2"/><circle cx="308.7" cy="240.2" r="5.2"/><circle cx="317.6" cy="217.2" r="5.2"/><circle cx="324.4" cy="241.9" r="5.2"/><circle cx="445.8" cy="392.4" r="5.2"/><circle cx="462.4" cy="388.0" r="5.2"/><circle cx="463.8" cy="410.0" r="5.2"/><circle cx="403.5" cy="430.1" r="5.2"/><circle cx="391.3" cy="404.4" r="5.2"/><circle cx="502.2" cy="407.1" r="5.2"/><circle cx="425.8" cy="397.0" r="5.2"/><circle cx="385.9" cy="391.3" r="5.2"/><circle cx="400.2" cy="419.9" r="5.2"/><circle cx="444.1" cy="391.1" r="5.2"/><circle cx="485.0" cy="399.7" r="5.2"/><circle cx="443.4" cy="393.9" r="5.2"/><circle cx="485.6" cy="401.8" r="5.2"/><circle cx="451.3" cy="394.7" r="5.2"/><circle cx="459.9" cy="401.9" r="5.2"/><circle cx="477.8" cy="381.0" r="5.2"/><circle cx="430.0" cy="394.1" r="5.2"/><circle cx="453.6" cy="410.6" r="5.2"/><circle cx="429.5" cy="383.6" r="5.2"/><circle cx="420.7" cy="387.7" r="5.2"/><circle cx="466.0" cy="410.6" r="5.2"/><circle cx="414.1" cy="399.7" r="5.2"/><circle cx="445.7" cy="407.2" r="5.2"/><circle cx="415.1" cy="370.1" r="5.2"/><circle cx="439.7" cy="396.8" r="5.2"/><circle cx="424.3" cy="380.9" r="5.2"/><circle cx="481.1" cy="379.6" r="5.2"/><circle cx="445.4" cy="399.8" r="5.2"/><circle cx="445.3" cy="408.5" r="5.2"/><circle cx="500.3" cy="378.4" r="5.2"/><circle cx="403.1" cy="382.7" r="5.2"/><circle cx="441.7" cy="388.6" r="5.2"/><circle cx="457.3" cy="393.8" r="5.2"/><circle cx="464.4" cy="380.2" r="5.2"/><circle cx="451.1" cy="420.6" r="5.2"/><circle cx="411.0" cy="401.8" r="5.2"/><circle cx="503.1" cy="391.1" r="5.2"/><circle cx="452.2" cy="389.3" r="5.2"/><circle cx="432.3" cy="421.3" r="5.2"/><circle cx="402.0" cy="420.4" r="5.2"/><circle cx="456.1" cy="389.6" r="5.2"/><circle cx="424.0" cy="399.0" r="5.2"/><circle cx="425.4" cy="409.3" r="5.2"/><circle cx="448.4" cy="381.8" r="5.2"/><circle cx="448.7" cy="388.5" r="5.2"/><circle cx="412.2" cy="410.3" r="5.2"/><circle cx="485.0" cy="387.3" r="5.2"/><circle cx="405.8" cy="390.2" r="5.2"/><circle cx="401.7" cy="379.9" r="5.2"/><circle cx="451.7" cy="386.5" r="5.2"/><circle cx="445.3" cy="402.8" r="5.2"/><circle cx="443.2" cy="385.7" r="5.2"/><circle cx="426.3" cy="380.3" r="5.2"/><circle cx="442.2" cy="387.9" r="5.2"/><circle cx="420.9" cy="415.0" r="5.2"/><circle cx="382.8" cy="397.0" r="5.2"/><circle cx="466.4" cy="388.6" r="5.2"/><circle cx="405.0" cy="396.7" r="5.2"/><circle cx="432.5" cy="399.9" r="5.2"/><circle cx="466.2" cy="396.3" r="5.2"/><circle cx="441.4" cy="374.5" r="5.2"/><circle cx="391.4" cy="398.3" r="5.2"/><circle cx="414.2" cy="392.5" r="5.2"/><circle cx="443.6" cy="404.4" r="5.2"/><circle cx="488.1" cy="379.6" r="5.2"/><circle cx="431.7" cy="406.7" r="5.2"/><circle cx="390.2" cy="389.3" r="5.2"/><circle cx="480.5" cy="375.6" r="5.2"/><circle cx="408.0" cy="409.9" r="5.2"/><circle cx="433.4" cy="389.0" r="5.2"/><circle cx="471.3" cy="399.0" r="5.2"/><circle cx="416.8" cy="393.0" r="5.2"/><circle cx="424.4" cy="407.2" r="5.2"/><circle cx="457.4" cy="407.3" r="5.2"/><circle cx="433.1" cy="407.4" r="5.2"/><circle cx="450.3" cy="402.9" r="5.2"/><circle cx="407.0" cy="376.5" r="5.2"/><circle cx="436.0" cy="375.7" r="5.2"/><circle cx="401.8" cy="397.0" r="5.2"/><circle cx="385.5" cy="384.0" r="5.2"/><circle cx="501.7" cy="400.0" r="5.2"/><circle cx="456.0" cy="396.6" r="5.2"/><circle cx="472.2" cy="378.7" r="5.2"/><circle cx="406.1" cy="383.0" r="5.2"/><circle cx="439.0" cy="381.9" r="5.2"/><circle cx="432.8" cy="384.7" r="5.2"/><circle cx="390.1" cy="392.4" r="5.2"/><circle cx="459.2" cy="402.4" r="5.2"/><circle cx="414.7" cy="409.9" r="5.2"/><circle cx="432.9" cy="383.7" r="5.2"/><circle cx="386.7" cy="388.3" r="5.2"/><circle cx="474.8" cy="412.3" r="5.2"/><circle cx="466.6" cy="404.8" r="5.2"/><circle cx="453.7" cy="397.4" r="5.2"/><circle cx="408.1" cy="368.1" r="5.2"/><circle cx="421.1" cy="383.3" r="5.2"/><circle cx="482.8" cy="396.5" r="5.2"/><circle cx="430.3" cy="388.0" r="5.2"/><circle cx="449.3" cy="417.3" r="5.2"/><circle cx="444.9" cy="395.7" r="5.2"/><circle cx="400.7" cy="397.9" r="5.2"/><circle cx="493.5" cy="382.2" r="5.2"/><circle cx="370.3" cy="382.9" r="5.2"/><circle cx="447.8" cy="387.1" r="5.2"/><circle cx="436.9" cy="387.6" r="5.2"/><circle cx="383.2" cy="392.0" r="5.2"/><circle cx="451.6" cy="398.9" r="5.2"/><circle cx="458.2" cy="397.4" r="5.2"/><circle cx="441.8" cy="406.1" r="5.2"/><circle cx="410.9" cy="379.3" r="5.2"/><circle cx="455.8" cy="397.1" r="5.2"/><circle cx="479.1" cy="397.4" r="5.2"/><circle cx="447.7" cy="412.7" r="5.2"/><circle cx="500.5" cy="392.2" r="5.2"/><circle cx="470.1" cy="398.4" r="5.2"/><circle cx="467.0" cy="385.4" r="5.2"/><circle cx="488.8" cy="399.5" r="5.2"/><circle cx="416.8" cy="399.2" r="5.2"/><circle cx="421.7" cy="387.6" r="5.2"/><circle cx="458.1" cy="389.7" r="5.2"/><circle cx="458.2" cy="394.3" r="5.2"/><circle cx="493.0" cy="401.3" r="5.2"/><circle cx="480.2" cy="381.6" r="5.2"/><circle cx="446.2" cy="404.7" r="5.2"/><circle cx="447.7" cy="390.9" r="5.2"/><circle cx="430.4" cy="416.2" r="5.2"/><circle cx="427.3" cy="411.3" r="5.2"/><circle cx="424.3" cy="390.1" r="5.2"/><circle cx="471.9" cy="387.6" r="5.2"/><circle cx="423.7" cy="422.6" r="5.2"/><circle cx="427.8" cy="401.8" r="5.2"/><circle cx="445.9" cy="401.1" r="5.2"/><circle cx="422.4" cy="389.9" r="5.2"/><circle cx="432.4" cy="393.2" r="5.2"/><circle cx="453.7" cy="403.8" r="5.2"/><circle cx="429.9" cy="401.7" r="5.2"/><circle cx="447.4" cy="385.3" r="5.2"/><circle cx="453.7" cy="408.8" r="5.2"/><circle cx="375.8" cy="398.2" r="5.2"/><circle cx="446.9" cy="383.9" r="5.2"/><circle cx="447.9" cy="406.0" r="5.2"/><circle cx="379.3" cy="392.7" r="5.2"/><circle cx="464.1" cy="403.6" r="5.2"/><circle cx="457.1" cy="388.4" r="5.2"/><circle cx="430.3" cy="398.8" r="5.2"/><circle cx="451.9" cy="376.3" r="5.2"/><circle cx="488.6" cy="398.9" r="5.2"/><circle cx="432.1" cy="377.5" r="5.2"/><circle cx="412.4" cy="396.6" r="5.2"/><circle cx="491.1" cy="365.9" r="5.2"/><circle cx="453.9" cy="394.0" r="5.2"/><circle cx="438.5" cy="402.9" r="5.2"/><circle cx="450.5" cy="400.2" r="5.2"/><circle cx="438.9" cy="408.3" r="5.2"/><circle cx="454.3" cy="382.5" r="5.2"/><circle cx="430.9" cy="412.5" r="5.2"/><circle cx="452.5" cy="412.9" r="5.2"/><circle cx="450.2" cy="381.1" r="5.2"/><circle cx="421.9" cy="385.7" r="5.2"/><circle cx="435.7" cy="388.2" r="5.2"/><circle cx="455.7" cy="394.4" r="5.2"/><circle cx="458.2" cy="396.8" r="5.2"/><circle cx="465.1" cy="366.7" r="5.2"/><circle cx="472.2" cy="401.4" r="5.2"/><circle cx="453.3" cy="391.8" r="5.2"/><circle cx="462.7" cy="383.2" r="5.2"/><circle cx="431.1" cy="405.5" r="5.2"/><circle cx="435.4" cy="390.8" r="5.2"/><circle cx="480.8" cy="407.6" r="5.2"/><circle cx="374.9" cy="400.7" r="5.2"/><circle cx="457.1" cy="391.1" r="5.2"/><circle cx="379.0" cy="408.0" r="5.2"/><circle cx="496.4" cy="403.8" r="5.2"/><circle cx="382.0" cy="389.0" r="5.2"/><circle cx="456.1" cy="376.4" r="5.2"/><circle cx="500.2" cy="388.5" r="5.2"/><circle cx="495.2" cy="401.7" r="5.2"/><circle cx="411.0" cy="392.0" r="5.2"/><circle cx="397.0" cy="414.7" r="5.2"/><circle cx="392.0" cy="397.6" r="5.2"/><circle cx="467.5" cy="396.9" r="5.2"/><circle cx="428.5" cy="399.2" r="5.2"/><circle cx="442.3" cy="384.7" r="5.2"/><circle cx="451.0" cy="393.3" r="5.2"/><circle cx="456.3" cy="387.2" r="5.2"/><circle cx="460.6" cy="368.1" r="5.2"/><circle cx="446.0" cy="374.5" r="5.2"/><circle cx="385.3" cy="403.0" r="5.2"/><circle cx="492.7" cy="389.6" r="5.2"/><circle cx="484.9" cy="393.3" r="5.2"/><circle cx="420.3" cy="377.9" r="5.2"/><circle cx="434.5" cy="388.0" r="5.2"/><circle cx="423.0" cy="403.5" r="5.2"/><circle cx="428.4" cy="395.8" r="5.2"/><circle cx="440.5" cy="388.8" r="5.2"/><circle cx="431.4" cy="412.0" r="5.2"/><circle cx="402.7" cy="394.0" r="5.2"/><circle cx="471.0" cy="390.7" r="5.2"/><circle cx="420.8" cy="407.6" r="5.2"/><circle cx="488.3" cy="375.0" r="5.2"/><circle cx="435.8" cy="400.9" r="5.2"/><circle cx="416.4" cy="382.0" r="5.2"/><circle cx="456.5" cy="385.7" r="5.2"/><circle cx="472.3" cy="386.9" r="5.2"/><circle cx="408.7" cy="396.1" r="5.2"/><circle cx="431.2" cy="395.9" r="5.2"/><circle cx="491.2" cy="398.1" r="5.2"/><circle cx="406.1" cy="397.0" r="5.2"/><circle cx="411.3" cy="410.5" r="5.2"/><circle cx="447.0" cy="413.8" r="5.2"/><circle cx="398.5" cy="402.7" r="5.2"/><circle cx="382.6" cy="403.2" r="5.2"/><circle cx="454.3" cy="390.4" r="5.2"/><circle cx="464.1" cy="382.2" r="5.2"/><circle cx="461.9" cy="401.4" r="5.2"/><circle cx="454.8" cy="395.1" r="5.2"/><circle cx="397.8" cy="404.4" r="5.2"/><circle cx="464.9" cy="374.0" r="5.2"/><circle cx="481.6" cy="425.0" r="5.2"/><circle cx="416.6" cy="380.3" r="5.2"/><circle cx="474.2" cy="395.1" r="5.2"/><circle cx="428.3" cy="405.9" r="5.2"/><circle cx="447.8" cy="379.0" r="5.2"/><circle cx="454.1" cy="388.4" r="5.2"/><circle cx="389.0" cy="371.8" r="5.2"/><circle cx="492.6" cy="378.5" r="5.2"/><circle cx="411.2" cy="372.8" r="5.2"/><circle cx="437.6" cy="395.9" r="5.2"/><circle cx="423.9" cy="398.0" r="5.2"/><circle cx="457.3" cy="391.1" r="5.2"/><circle cx="456.4" cy="409.0" r="5.2"/><circle cx="442.0" cy="410.4" r="5.2"/><circle cx="490.8" cy="394.6" r="5.2"/><circle cx="451.1" cy="392.2" r="5.2"/><circle cx="427.2" cy="391.6" r="5.2"/><circle cx="431.4" cy="389.6" r="5.2"/><circle cx="431.1" cy="409.5" r="5.2"/><circle cx="410.7" cy="397.4" r="5.2"/><circle cx="411.1" cy="391.0" r="5.2"/><circle cx="462.1" cy="392.1" r="5.2"/><circle cx="477.9" cy="400.9" r="5.2"/><circle cx="507.8" cy="390.2" r="5.2"/><circle cx="481.4" cy="398.3" r="5.2"/><circle cx="416.4" cy="394.3" r="5.2"/><circle cx="450.3" cy="410.1" r="5.2"/><circle cx="393.4" cy="407.8" r="5.2"/><circle cx="466.9" cy="378.7" r="5.2"/><circle cx="453.8" cy="392.9" r="5.2"/><circle cx="419.8" cy="402.8" r="5.2"/><circle cx="437.6" cy="389.7" r="5.2"/><circle cx="400.3" cy="406.9" r="5.2"/><circle cx="372.4" cy="365.9" r="5.2"/><circle cx="404.2" cy="386.6" r="5.2"/><circle cx="386.3" cy="368.1" r="5.2"/><circle cx="406.1" cy="409.5" r="5.2"/><circle cx="405.7" cy="399.3" r="5.2"/><circle cx="367.6" cy="373.9" r="5.2"/><circle cx="393.7" cy="382.9" r="5.2"/><circle cx="375.2" cy="369.1" r="5.2"/><circle cx="391.1" cy="411.7" r="5.2"/><circle cx="402.4" cy="412.1" r="5.2"/><circle cx="384.2" cy="412.1" r="5.2"/><circle cx="392.4" cy="396.0" r="5.2"/><circle cx="393.1" cy="376.8" r="5.2"/><circle cx="372.9" cy="387.6" r="5.2"/><circle cx="382.9" cy="399.3" r="5.2"/><circle cx="377.2" cy="385.9" r="5.2"/><circle cx="385.3" cy="365.2" r="5.2"/><circle cx="397.1" cy="391.5" r="5.2"/><circle cx="371.1" cy="366.9" r="5.2"/><circle cx="388.2" cy="375.2" r="5.2"/><circle cx="386.2" cy="407.9" r="5.2"/><circle cx="381.2" cy="396.4" r="5.2"/><circle cx="400.4" cy="406.7" r="5.2"/><circle cx="379.7" cy="400.1" r="5.2"/><circle cx="374.6" cy="376.0" r="5.2"/><circle cx="352.5" cy="358.0" r="5.2"/><circle cx="377.3" cy="352.9" r="5.2"/><circle cx="346.0" cy="352.8" r="5.2"/><circle cx="340.2" cy="359.7" r="5.2"/><circle cx="357.5" cy="357.9" r="5.2"/><circle cx="347.6" cy="341.9" r="5.2"/><circle cx="376.6" cy="353.9" r="5.2"/><circle cx="354.6" cy="372.3" r="5.2"/><circle cx="341.1" cy="383.9" r="5.2"/><circle cx="380.9" cy="340.8" r="5.2"/><circle cx="389.5" cy="394.7" r="5.2"/><circle cx="377.5" cy="360.2" r="5.2"/><circle cx="390.6" cy="367.6" r="5.2"/><circle cx="381.4" cy="348.5" r="5.2"/><circle cx="389.2" cy="347.2" r="5.2"/><circle cx="375.4" cy="385.5" r="5.2"/><circle cx="381.4" cy="354.5" r="5.2"/><circle cx="382.0" cy="356.7" r="5.2"/><circle cx="345.5" cy="380.4" r="5.2"/><circle cx="356.4" cy="391.0" r="5.2"/><circle cx="372.4" cy="330.6" r="5.2"/><circle cx="356.5" cy="355.2" r="5.2"/><circle cx="386.2" cy="358.6" r="5.2"/><circle cx="342.1" cy="392.8" r="5.2"/><circle cx="346.1" cy="357.9" r="5.2"/><circle cx="356.8" cy="365.9" r="5.2"/><circle cx="357.7" cy="375.1" r="5.2"/><circle cx="384.0" cy="380.5" r="5.2"/><circle cx="340.0" cy="353.0" r="5.2"/><circle cx="383.7" cy="375.1" r="5.2"/><circle cx="391.5" cy="345.9" r="5.2"/><circle cx="341.9" cy="333.2" r="5.2"/><circle cx="390.4" cy="363.1" r="5.2"/><circle cx="374.7" cy="373.8" r="5.2"/><circle cx="346.3" cy="325.3" r="5.2"/><circle cx="383.9" cy="358.6" r="5.2"/><circle cx="345.6" cy="369.8" r="5.2"/><circle cx="359.9" cy="378.7" r="5.2"/><circle cx="352.1" cy="373.8" r="5.2"/><circle cx="359.9" cy="355.8" r="5.2"/><circle cx="347.1" cy="386.1" r="5.2"/><circle cx="359.6" cy="364.8" r="5.2"/><circle cx="369.8" cy="355.1" r="5.2"/><circle cx="364.2" cy="361.9" r="5.2"/><circle cx="367.3" cy="377.3" r="5.2"/><circle cx="387.3" cy="363.2" r="5.2"/><circle cx="385.0" cy="360.5" r="5.2"/><circle cx="345.3" cy="332.6" r="5.2"/><circle cx="378.8" cy="368.8" r="5.2"/><circle cx="382.1" cy="360.4" r="5.2"/><circle cx="388.1" cy="394.3" r="5.2"/><circle cx="360.4" cy="359.6" r="5.2"/><circle cx="388.9" cy="358.2" r="5.2"/><circle cx="369.2" cy="348.1" r="5.2"/><circle cx="313.5" cy="165.4" r="5.2"/><circle cx="325.2" cy="194.7" r="5.2"/><circle cx="373.1" cy="205.2" r="5.2"/><circle cx="374.3" cy="255.5" r="5.2"/><circle cx="387.2" cy="253.2" r="5.2"/><circle cx="391.9" cy="346.8" r="5.2"/><circle cx="416.4" cy="360.8" r="5.2"/><circle cx="528.7" cy="384.2" r="5.2"/><circle cx="542.8" cy="380.7" r="5.2"/><circle cx="538.1" cy="394.7" r="5.2"/><circle cx="531.1" cy="406.4" r="5.2"/><circle cx="534.6" cy="398.2" r="5.2"/><circle cx="573.2" cy="399.4" r="5.2"/><circle cx="576.7" cy="404.1" r="5.2"/><circle cx="570.8" cy="426.3" r="5.2"/><circle cx="613.0" cy="395.9" r="5.2"/><circle cx="673.8" cy="381.9" r="5.2"/><circle cx="650.4" cy="412.3" r="5.2"/><circle cx="669.1" cy="415.3" r="5.2"/><circle cx="596.6" cy="414.6" r="5.2"/><circle cx="553.3" cy="417.0" r="5.2"/><circle cx="560.3" cy="414.6" r="5.2"/><circle cx="570.8" cy="426.3" r="5.2"/><circle cx="518.2" cy="426.3" r="5.2"/><circle cx="519.4" cy="419.3" r="5.2"/><circle cx="512.4" cy="399.4" r="5.2"/><circle cx="329.9" cy="436.8" r="5.2"/><circle cx="311.1" cy="407.6" r="5.2"/><circle cx="312.3" cy="419.3" r="5.2"/><circle cx="328.7" cy="407.6" r="5.2"/><circle cx="319.3" cy="395.9" r="5.2"/><circle cx="360.3" cy="411.1" r="5.2"/><circle cx="349.7" cy="404.1" r="5.2"/><circle cx="500.7" cy="377.2" r="5.2"/><circle cx="490.1" cy="379.5" r="5.2"/><circle cx="485.4" cy="424.0" r="5.2"/></g>
<line x1="373.3" y1="128.5" x2="373.3" y2="454.0" stroke="#111" stroke-width="3.3" stroke-dasharray="15.5,10"/>
<rect x="262.3" y="128.2" width="434.4" height="326.0" fill="none" stroke="#6e6e6e" stroke-width="1.5"/>
<line x1="262.3" y1="452.6" x2="266.3" y2="452.6" stroke="#6e6e6e" stroke-width="1.5"/>
<line x1="696.7" y1="452.6" x2="692.7" y2="452.6" stroke="#6e6e6e" stroke-width="1.5"/>
<text transform="translate(257.9 460.6) scale(1 1.1)" font-size="26.5" text-anchor="end" fill="#444">0</text>
<line x1="262.3" y1="399.8" x2="266.3" y2="399.8" stroke="#6e6e6e" stroke-width="1.5"/>
<line x1="696.7" y1="399.8" x2="692.7" y2="399.8" stroke="#6e6e6e" stroke-width="1.5"/>
<text transform="translate(255.6 407.8) scale(1 1.1)" font-size="26.5" text-anchor="end" fill="#444">500</text>
<line x1="262.3" y1="347.0" x2="266.3" y2="347.0" stroke="#6e6e6e" stroke-width="1.5"/>
<line x1="696.7" y1="347.0" x2="692.7" y2="347.0" stroke="#6e6e6e" stroke-width="1.5"/>
<text transform="translate(260.2 355.0) scale(1 1.1)" font-size="26.5" text-anchor="end" fill="#444">1000</text>
<line x1="262.3" y1="294.2" x2="266.3" y2="294.2" stroke="#6e6e6e" stroke-width="1.5"/>
<line x1="696.7" y1="294.2" x2="692.7" y2="294.2" stroke="#6e6e6e" stroke-width="1.5"/>
<text transform="translate(260.2 302.2) scale(1 1.1)" font-size="26.5" text-anchor="end" fill="#444">1500</text>
<line x1="262.3" y1="241.5" x2="266.3" y2="241.5" stroke="#6e6e6e" stroke-width="1.5"/>
<line x1="696.7" y1="241.5" x2="692.7" y2="241.5" stroke="#6e6e6e" stroke-width="1.5"/>
<text transform="translate(260.2 249.5) scale(1 1.1)" font-size="26.5" text-anchor="end" fill="#444">2000</text>
<line x1="262.3" y1="188.7" x2="266.3" y2="188.7" stroke="#6e6e6e" stroke-width="1.5"/>
<line x1="696.7" y1="188.7" x2="692.7" y2="188.7" stroke="#6e6e6e" stroke-width="1.5"/>
<text transform="translate(260.2 196.7) scale(1 1.1)" font-size="26.5" text-anchor="end" fill="#444">2500</text>
<line x1="262.3" y1="135.9" x2="266.3" y2="135.9" stroke="#6e6e6e" stroke-width="1.5"/>
<line x1="696.7" y1="135.9" x2="692.7" y2="135.9" stroke="#6e6e6e" stroke-width="1.5"/>
<text transform="translate(260.2 143.9) scale(1 1.1)" font-size="26.5" text-anchor="end" fill="#444">3000</text>
<line x1="319.3" y1="454.2" x2="319.3" y2="450.2" stroke="#6e6e6e" stroke-width="1.5"/>
<line x1="319.3" y1="128.2" x2="319.3" y2="132.2" stroke="#6e6e6e" stroke-width="1.5"/>
<text transform="translate(321.5 482) scale(1 1.1)" font-size="26.5" text-anchor="middle" fill="#444">50</text>
<line x1="402.9" y1="454.2" x2="402.9" y2="450.2" stroke="#6e6e6e" stroke-width="1.5"/>
<line x1="402.9" y1="128.2" x2="402.9" y2="132.2" stroke="#6e6e6e" stroke-width="1.5"/>
<text transform="translate(405.1 482) scale(1 1.1)" font-size="26.5" text-anchor="middle" fill="#444">100</text>
<line x1="486.5" y1="454.2" x2="486.5" y2="450.2" stroke="#6e6e6e" stroke-width="1.5"/>
<line x1="486.5" y1="128.2" x2="486.5" y2="132.2" stroke="#6e6e6e" stroke-width="1.5"/>
<text transform="translate(488.7 482) scale(1 1.1)" font-size="26.5" text-anchor="middle" fill="#444">150</text>
<line x1="570.1" y1="454.2" x2="570.1" y2="450.2" stroke="#6e6e6e" stroke-width="1.5"/>
<line x1="570.1" y1="128.2" x2="570.1" y2="132.2" stroke="#6e6e6e" stroke-width="1.5"/>
<text transform="translate(572.3 482) scale(1 1.1)" font-size="26.5" text-anchor="middle" fill="#444">200</text>
<line x1="653.7" y1="454.2" x2="653.7" y2="450.2" stroke="#6e6e6e" stroke-width="1.5"/>
<line x1="653.7" y1="128.2" x2="653.7" y2="132.2" stroke="#6e6e6e" stroke-width="1.5"/>
<text transform="translate(655.9 482) scale(1 1.1)" font-size="26.5" text-anchor="middle" fill="#444">250</text>
<text x="273" y="516.2" font-size="33.6" fill="#1a1a1a">Chromatin DNA area (µm<tspan font-size="21" dy="-13">2</tspan><tspan dy="13">)</tspan></text>
<text font-size="34.5" transform="translate(192.0 477.0) rotate(-90)" fill="#1a1a1a">DAPI fluorescence Mean</text>
<text font-size="38.6" transform="translate(923.5 99.2) scale(1 1.03)">Human PMNs</text>
<rect x="853.5" y="126.3" width="16.5" height="16.5" fill="#d9eef7" stroke="#3c4f57" stroke-width="1.3"/>
<text x="877" y="144.9" font-size="30.6">Annexin V<tspan font-size="19" dy="-12">+</tspan><tspan dy="12">PI</tspan><tspan font-size="19" dy="-12">-</tspan></text>
<circle cx="1095.4" cy="133" r="8.2" fill="#a4a4cc" stroke="#23233a" stroke-width="1.1"/>
<text font-size="29.3" x="1119.5" y="144.9">NETs</text>
<line x1="828.0" y1="150.5" x2="828.0" y2="500.0" stroke="#000" stroke-width="3.2"/>
<line x1="826.4" y1="499.5" x2="1244.0" y2="499.5" stroke="#000" stroke-width="3.2"/>
<line x1="815.0" y1="498.4" x2="828.0" y2="498.4" stroke="#000" stroke-width="3"/>
<text font-size="28.5" transform="translate(810.0 508.4) scale(1 1.08)" text-anchor="end">0</text>
<line x1="815.0" y1="382.9" x2="828.0" y2="382.9" stroke="#000" stroke-width="3"/>
<text font-size="28.5" transform="translate(810.0 392.9) scale(1 1.08)" text-anchor="end">10</text>
<line x1="815.0" y1="267.4" x2="828.0" y2="267.4" stroke="#000" stroke-width="3"/>
<text font-size="28.5" transform="translate(810.0 277.4) scale(1 1.08)" text-anchor="end">20</text>
<line x1="815.0" y1="151.9" x2="828.0" y2="151.9" stroke="#000" stroke-width="3"/>
<text font-size="28.5" transform="translate(810.0 161.9) scale(1 1.08)" text-anchor="end">30</text>
<line x1="893.8" y1="499.0" x2="893.8" y2="510.5" stroke="#000" stroke-width="3"/>
<text font-size="28.5" transform="translate(892.8 541.8) scale(1 1.08)" text-anchor="middle">0</text>
<line x1="1036.0" y1="499.0" x2="1036.0" y2="510.5" stroke="#000" stroke-width="3"/>
<text font-size="28.5" transform="translate(1035.0 541.8) scale(1 1.08)" text-anchor="middle">1</text>
<line x1="1178.0" y1="499.0" x2="1178.0" y2="510.5" stroke="#000" stroke-width="3"/>
<text font-size="28.5" transform="translate(1177.0 541.8) scale(1 1.08)" text-anchor="middle">2</text>
<text font-size="34.2" transform="translate(988.0 581.3) scale(1 1.06)">Time (h)</text>
<text font-size="35" transform="translate(769.8 318.2) rotate(-90) scale(1 1.04)" text-anchor="middle">(%)</text>
<line x1="865.0" y1="470.5" x2="865.0" y2="488.5" stroke="#000" stroke-width="2"/>
<line x1="859.0" y1="470.5" x2="871.0" y2="470.5" stroke="#000" stroke-width="2"/>
<line x1="859.0" y1="488.5" x2="871.0" y2="488.5" stroke="#000" stroke-width="2"/>
<line x1="854.0" y1="479.5" x2="876.0" y2="479.5" stroke="#000" stroke-width="2"/>
<rect x="859.7" y="394.8" width="16" height="16" fill="#d9eef7" stroke="#31434c" stroke-width="1.3"/>
<rect x="853.1" y="487.8" width="16" height="16" fill="#d9eef7" stroke="#31434c" stroke-width="1.3"/>
<rect x="868.5" y="482.1" width="16" height="16" fill="#d9eef7" stroke="#31434c" stroke-width="1.3"/>
<rect x="862.8" y="473.5" width="16" height="16" fill="#d9eef7" stroke="#31434c" stroke-width="1.3"/>
<rect x="853.1" y="471.8" width="16" height="16" fill="#d9eef7" stroke="#31434c" stroke-width="1.3"/>
<rect x="875.3" y="468.2" width="16" height="16" fill="#d9eef7" stroke="#31434c" stroke-width="1.3"/>
<rect x="846.0" y="457.9" width="16" height="16" fill="#d9eef7" stroke="#31434c" stroke-width="1.3"/>
<rect x="866.8" y="458.7" width="16" height="16" fill="#d9eef7" stroke="#31434c" stroke-width="1.3"/>
<line x1="920.0" y1="497.0" x2="920.0" y2="500.0" stroke="#000" stroke-width="2"/>
<line x1="912.0" y1="497.0" x2="928.0" y2="497.0" stroke="#000" stroke-width="2"/>
<line x1="912.0" y1="500.0" x2="928.0" y2="500.0" stroke="#000" stroke-width="2"/>
<line x1="904.0" y1="498.5" x2="936.0" y2="498.5" stroke="#000" stroke-width="2"/>
<circle cx="906.7" cy="499.2" r="8.2" fill="#a4a4cc" stroke="#1e1e33" stroke-width="1.1"/>
<circle cx="920.4" cy="499.8" r="8.2" fill="#a4a4cc" stroke="#1e1e33" stroke-width="1.1"/>
<circle cx="927.3" cy="499.2" r="8.2" fill="#a4a4cc" stroke="#1e1e33" stroke-width="1.1"/>
<circle cx="935.0" cy="499.0" r="8.2" fill="#a4a4cc" stroke="#1e1e33" stroke-width="1.1"/>
<circle cx="913.9" cy="486.4" r="8.2" fill="#a4a4cc" stroke="#1e1e33" stroke-width="1.1"/>
<line x1="1009.8" y1="355.0" x2="1009.8" y2="412.5" stroke="#000" stroke-width="2"/>
<line x1="998.3" y1="355.0" x2="1021.3" y2="355.0" stroke="#000" stroke-width="2"/>
<line x1="998.3" y1="412.5" x2="1021.3" y2="412.5" stroke="#000" stroke-width="2"/>
<line x1="988.0" y1="383.6" x2="1031.6" y2="383.6" stroke="#000" stroke-width="2"/>
<rect x="1001.7" y="193.3" width="16" height="16" fill="#d9eef7" stroke="#31434c" stroke-width="1.3"/>
<rect x="1001.7" y="324.2" width="16" height="16" fill="#d9eef7" stroke="#31434c" stroke-width="1.3"/>
<rect x="996.8" y="414.4" width="16" height="16" fill="#d9eef7" stroke="#31434c" stroke-width="1.3"/>
<rect x="1015.5" y="419.3" width="16" height="16" fill="#d9eef7" stroke="#31434c" stroke-width="1.3"/>
<rect x="1001.7" y="436.2" width="16" height="16" fill="#d9eef7" stroke="#31434c" stroke-width="1.3"/>
<rect x="987.9" y="404.7" width="16" height="16" fill="#d9eef7" stroke="#31434c" stroke-width="1.3"/>
<rect x="1015.5" y="401.1" width="16" height="16" fill="#d9eef7" stroke="#31434c" stroke-width="1.3"/>
<rect x="1005.8" y="409.6" width="16" height="16" fill="#d9eef7" stroke="#31434c" stroke-width="1.3"/>
<line x1="1063.0" y1="480.6" x2="1063.0" y2="489.0" stroke="#000" stroke-width="2"/>
<line x1="1053.0" y1="480.6" x2="1073.0" y2="480.6" stroke="#000" stroke-width="2"/>
<line x1="1053.0" y1="489.0" x2="1073.0" y2="489.0" stroke="#000" stroke-width="2"/>
<line x1="1041.0" y1="485.5" x2="1085.0" y2="485.5" stroke="#000" stroke-width="2"/>
<circle cx="1063.0" cy="456.4" r="8.2" fill="#a4a4cc" stroke="#1e1e33" stroke-width="1.1"/>
<circle cx="1063.0" cy="474.1" r="8.2" fill="#a4a4cc" stroke="#1e1e33" stroke-width="1.1"/>
<circle cx="1048.5" cy="495.2" r="8.2" fill="#a4a4cc" stroke="#1e1e33" stroke-width="1.1"/>
<circle cx="1060.6" cy="493.9" r="8.2" fill="#a4a4cc" stroke="#1e1e33" stroke-width="1.1"/>
<circle cx="1071.5" cy="497.6" r="8.2" fill="#a4a4cc" stroke="#1e1e33" stroke-width="1.1"/>
<circle cx="1078.0" cy="491.0" r="8.2" fill="#a4a4cc" stroke="#1e1e33" stroke-width="1.1"/>
<circle cx="1054.5" cy="486.7" r="8.2" fill="#a4a4cc" stroke="#1e1e33" stroke-width="1.1"/>
<circle cx="1066.7" cy="487.9" r="8.2" fill="#a4a4cc" stroke="#1e1e33" stroke-width="1.1"/>
<line x1="1151.5" y1="310.2" x2="1151.5" y2="341.7" stroke="#000" stroke-width="2"/>
<line x1="1140.5" y1="310.2" x2="1162.5" y2="310.2" stroke="#000" stroke-width="2"/>
<line x1="1140.5" y1="341.7" x2="1162.5" y2="341.7" stroke="#000" stroke-width="2"/>
<line x1="1129.7" y1="325.9" x2="1173.3" y2="325.9" stroke="#000" stroke-width="2"/>
<rect x="1147.9" y="253.7" width="16" height="16" fill="#d9eef7" stroke="#31434c" stroke-width="1.3"/>
<rect x="1138.7" y="255.6" width="16" height="16" fill="#d9eef7" stroke="#31434c" stroke-width="1.3"/>
<rect x="1143.0" y="291.5" width="16" height="16" fill="#d9eef7" stroke="#31434c" stroke-width="1.3"/>
<rect x="1143.0" y="320.4" width="16" height="16" fill="#d9eef7" stroke="#31434c" stroke-width="1.3"/>
<rect x="1157.6" y="350.7" width="16" height="16" fill="#d9eef7" stroke="#31434c" stroke-width="1.3"/>
<rect x="1138.7" y="349.0" width="16" height="16" fill="#d9eef7" stroke="#31434c" stroke-width="1.3"/>
<rect x="1129.7" y="359.9" width="16" height="16" fill="#d9eef7" stroke="#31434c" stroke-width="1.3"/>
<rect x="1147.9" y="359.9" width="16" height="16" fill="#d9eef7" stroke="#31434c" stroke-width="1.3"/>
<line x1="1204.8" y1="283.0" x2="1204.8" y2="330.3" stroke="#000" stroke-width="2"/>
<line x1="1193.8" y1="283.0" x2="1215.8" y2="283.0" stroke="#000" stroke-width="2"/>
<line x1="1193.8" y1="330.3" x2="1215.8" y2="330.3" stroke="#000" stroke-width="2"/>
<line x1="1193.8" y1="306.0" x2="1215.8" y2="306.0" stroke="#000" stroke-width="2"/>
<circle cx="1204.8" cy="199.9" r="8.2" fill="#a4a4cc" stroke="#1e1e33" stroke-width="1.1"/>
<circle cx="1204.8" cy="240.1" r="8.2" fill="#a4a4cc" stroke="#1e1e33" stroke-width="1.1"/>
<circle cx="1204.8" cy="292.7" r="8.2" fill="#a4a4cc" stroke="#1e1e33" stroke-width="1.1"/>
<circle cx="1190.8" cy="307.3" r="8.2" fill="#a4a4cc" stroke="#1e1e33" stroke-width="1.1"/>
<circle cx="1218.9" cy="307.3" r="8.2" fill="#a4a4cc" stroke="#1e1e33" stroke-width="1.1"/>
<circle cx="1204.8" cy="315.0" r="8.2" fill="#a4a4cc" stroke="#1e1e33" stroke-width="1.1"/>
<circle cx="1204.8" cy="379.3" r="8.2" fill="#a4a4cc" stroke="#1e1e33" stroke-width="1.1"/>
<circle cx="1204.8" cy="410.3" r="8.2" fill="#a4a4cc" stroke="#1e1e33" stroke-width="1.1"/>
<text font-size="34.5" x="1316.0" y="76.2">PMA treatment</text>
<text font-size="34.5" x="1316.0" y="118.3">Time (h)</text>
<text font-size="34.5" x="1552.0" y="118.3">(%)</text>
<path d="M1382.1,206.5 L1411.9,206.5 L1418.2,203.8 L1422.6,194.9 L1427.1,169.9 L1431.5,141.4 L1432.8,136.4 L1434.2,137.8 L1436.0,136.9 L1437.8,139.6 L1441.3,146.8 L1444.0,157.5 L1447.6,171.7 L1451.1,184.2 L1453.8,188.7 L1457.4,193.1 L1462.7,198.5 L1468.1,201.1 L1477.0,202.9 L1494.8,204.7 L1521.6,206.0 L1548.3,206.5 L1638.9,206.5" fill="none" stroke="#2a2a2a" stroke-width="1.2"/>
<path d="M1382.1,283.2 L1411.0,283.2 L1417.3,276.9 L1421.7,259.1 L1427.1,230.6 L1431.5,216.3 L1432.8,214.9 L1435.1,219.9 L1437.8,223.4 L1440.4,230.6 L1443.1,241.3 L1446.7,255.5 L1451.1,262.7 L1457.4,268.0 L1466.3,269.8 L1477.0,271.6 L1485.9,271.6 L1494.8,274.3 L1505.5,276.9 L1518.0,281.4 L1530.5,283.2 L1638.9,283.2 Z" fill="#eaf2d7" stroke="none"/>
<path d="M1382.1,283.2 L1411.0,283.2 L1417.3,276.9 L1421.7,259.1 L1427.1,230.6 L1431.5,216.3 L1432.8,214.9 L1435.1,219.9 L1437.8,223.4 L1440.4,230.6 L1443.1,241.3 L1446.7,255.5 L1451.1,262.7 L1457.4,268.0 L1466.3,269.8 L1477.0,271.6 L1485.9,271.6 L1494.8,274.3 L1505.5,276.9 L1518.0,281.4 L1530.5,283.2 L1638.9,283.2" fill="none" stroke="#cfdcaa" stroke-width="1.2"/>
<path d="M1382.1,360.8 L1409.2,360.4 L1414.6,357.2 L1421.7,342.9 L1430.6,323.3 L1437.8,305.5 L1441.3,299.2 L1444.9,297.5 L1448.5,296.6 L1451.1,298.3 L1452.9,293.9 L1454.7,299.2 L1457.4,301.0 L1461.0,303.7 L1464.5,309.0 L1467.2,314.4 L1469.0,312.6 L1471.7,314.4 L1475.2,323.3 L1480.6,330.5 L1485.9,335.8 L1493.1,344.7 L1502.0,351.9 L1512.7,357.2 L1525.2,359.9 L1535.9,360.8 L1638.9,360.8 Z" fill="#d6e0c1" stroke="none"/>
<path d="M1382.1,360.8 L1409.2,360.4 L1414.6,357.2 L1421.7,342.9 L1430.6,323.3 L1437.8,305.5 L1441.3,299.2 L1444.9,297.5 L1448.5,296.6 L1451.1,298.3 L1452.9,293.9 L1454.7,299.2 L1457.4,301.0 L1461.0,303.7 L1464.5,309.0 L1467.2,314.4 L1469.0,312.6 L1471.7,314.4 L1475.2,323.3 L1480.6,330.5 L1485.9,335.8 L1493.1,344.7 L1502.0,351.9 L1512.7,357.2 L1525.2,359.9 L1535.9,360.8 L1638.9,360.8" fill="none" stroke="#a9ba86" stroke-width="1.2"/>
<path d="M1382.1,437.4 L1411.0,437.4 L1416.4,433.8 L1421.7,421.3 L1427.1,405.3 L1432.4,392.8 L1437.8,380.3 L1441.3,372.3 L1443.1,371.4 L1448.5,373.2 L1450.3,375.9 L1452.9,371.8 L1455.6,375.0 L1457.4,380.3 L1460.1,377.6 L1462.7,373.2 L1465.4,376.8 L1467.7,383.0 L1469.9,379.4 L1472.6,381.2 L1477.0,386.6 L1480.6,386.6 L1485.9,392.8 L1491.3,399.9 L1496.6,407.1 L1500.2,416.0 L1505.5,423.1 L1512.7,429.4 L1521.6,434.7 L1530.5,437.0 L1537.6,437.4 L1638.9,437.4 Z" fill="#c5cfb0" stroke="none"/>
<path d="M1382.1,437.4 L1411.0,437.4 L1416.4,433.8 L1421.7,421.3 L1427.1,405.3 L1432.4,392.8 L1437.8,380.3 L1441.3,372.3 L1443.1,371.4 L1448.5,373.2 L1450.3,375.9 L1452.9,371.8 L1455.6,375.0 L1457.4,380.3 L1460.1,377.6 L1462.7,373.2 L1465.4,376.8 L1467.7,383.0 L1469.9,379.4 L1472.6,381.2 L1477.0,386.6 L1480.6,386.6 L1485.9,392.8 L1491.3,399.9 L1496.6,407.1 L1500.2,416.0 L1505.5,423.1 L1512.7,429.4 L1521.6,434.7 L1530.5,437.0 L1537.6,437.4 L1638.9,437.4" fill="none" stroke="#7b8b5c" stroke-width="1.2"/>
<path d="M1382.1,514.1 L1411.0,514.1 L1416.4,510.5 L1421.7,498.0 L1425.3,487.3 L1430.6,478.4 L1436.0,464.1 L1438.7,455.2 L1441.3,453.4 L1446.7,452.6 L1451.1,450.8 L1453.8,447.7 L1455.6,448.1 L1457.4,457.0 L1460.1,457.0 L1462.7,454.9 L1466.3,458.8 L1469.0,459.7 L1473.4,462.4 L1477.0,465.9 L1480.6,465.0 L1485.9,469.5 L1493.1,474.8 L1498.4,482.0 L1505.5,490.9 L1514.5,497.1 L1521.6,503.4 L1526.9,508.7 L1534.1,513.2 L1544.8,514.1 L1638.9,514.1 Z" fill="#aeb3a1" stroke="none"/>
<path d="M1382.1,514.1 L1411.0,514.1 L1416.4,510.5 L1421.7,498.0 L1425.3,487.3 L1430.6,478.4 L1436.0,464.1 L1438.7,455.2 L1441.3,453.4 L1446.7,452.6 L1451.1,450.8 L1453.8,447.7 L1455.6,448.1 L1457.4,457.0 L1460.1,457.0 L1462.7,454.9 L1466.3,458.8 L1469.0,459.7 L1473.4,462.4 L1477.0,465.9 L1480.6,465.0 L1485.9,469.5 L1493.1,474.8 L1498.4,482.0 L1505.5,490.9 L1514.5,497.1 L1521.6,503.4 L1526.9,508.7 L1534.1,513.2 L1544.8,514.1 L1638.9,514.1" fill="none" stroke="#3f4636" stroke-width="1.2"/>
<rect x="1382" y="128.2" width="256.5" height="385.8" fill="none" stroke="#222" stroke-width="1.4"/>
<line x1="1468.8" y1="128.5" x2="1468.8" y2="514.0" stroke="#111" stroke-width="1.6" stroke-dasharray="13,6"/>
<text font-size="30.2" x="1578.6" y="200.3" text-anchor="middle" fill="#231815">6.5</text>
<text font-size="30.2" x="1578.6" y="277.8" text-anchor="middle" fill="#231815">22.5</text>
<text font-size="30.2" x="1578.6" y="354.5" text-anchor="middle" fill="#231815">30.0</text>
<text font-size="30.2" x="1578.6" y="432.9" text-anchor="middle" fill="#231815">40.1</text>
<text font-size="30.2" x="1578.6" y="509.6" text-anchor="middle" fill="#231815">43.9</text>
<text font-size="34" x="1316.5" y="198.8" text-anchor="middle">0</text>
<text font-size="34" x="1316.5" y="275.0" text-anchor="middle">1</text>
<text font-size="34" x="1316.5" y="351.6" text-anchor="middle">2</text>
<text font-size="34" x="1316.5" y="428.0" text-anchor="middle">3</text>
<text font-size="34" x="1316.5" y="504.3" text-anchor="middle">4</text>
<text font-size="31.5" transform="translate(1360.0 244.3) rotate(-90)" text-anchor="middle">% of Max</text>
<line x1="1352.5" y1="517.0" x2="1352.5" y2="338.0" stroke="#231815" stroke-width="1.8"/>
<path d="M1352.5,322.5 L1346.8,342.5 L1358.2,342.5 Z" fill="#231815"/>
<line x1="1481.5" y1="514.0" x2="1481.5" y2="523.0" stroke="#222" stroke-width="1.6"/>
<line x1="1548.3" y1="514.0" x2="1548.3" y2="523.0" stroke="#222" stroke-width="1.6"/>
<line x1="1612.2" y1="514.0" x2="1612.2" y2="523.0" stroke="#222" stroke-width="1.6"/>
<line x1="1383.4" y1="514.0" x2="1383.4" y2="518.5" stroke="#222" stroke-width="1.2"/>
<line x1="1387.8" y1="514.0" x2="1387.8" y2="518.5" stroke="#222" stroke-width="1.2"/>
<line x1="1392.3" y1="514.0" x2="1392.3" y2="518.5" stroke="#222" stroke-width="1.2"/>
<line x1="1396.8" y1="514.0" x2="1396.8" y2="518.5" stroke="#222" stroke-width="1.2"/>
<line x1="1401.2" y1="514.0" x2="1401.2" y2="518.5" stroke="#222" stroke-width="1.2"/>
<line x1="1405.7" y1="514.0" x2="1405.7" y2="518.5" stroke="#222" stroke-width="1.2"/>
<line x1="1410.1" y1="514.0" x2="1410.1" y2="518.5" stroke="#222" stroke-width="1.2"/>
<line x1="1440.4" y1="514.0" x2="1440.4" y2="518.5" stroke="#222" stroke-width="1.2"/>
<line x1="1446.7" y1="514.0" x2="1446.7" y2="518.5" stroke="#222" stroke-width="1.2"/>
<line x1="1452.9" y1="514.0" x2="1452.9" y2="518.5" stroke="#222" stroke-width="1.2"/>
<line x1="1457.4" y1="514.0" x2="1457.4" y2="518.5" stroke="#222" stroke-width="1.2"/>
<line x1="1460.1" y1="514.0" x2="1460.1" y2="518.5" stroke="#222" stroke-width="1.2"/>
<line x1="1462.7" y1="514.0" x2="1462.7" y2="518.5" stroke="#222" stroke-width="1.2"/>
<line x1="1465.4" y1="514.0" x2="1465.4" y2="518.5" stroke="#222" stroke-width="1.2"/>
<line x1="1468.1" y1="514.0" x2="1468.1" y2="518.5" stroke="#222" stroke-width="1.2"/>
<line x1="1470.8" y1="514.0" x2="1470.8" y2="518.5" stroke="#222" stroke-width="1.2"/>
<line x1="1473.4" y1="514.0" x2="1473.4" y2="518.5" stroke="#222" stroke-width="1.2"/>
<line x1="1476.1" y1="514.0" x2="1476.1" y2="518.5" stroke="#222" stroke-width="1.2"/>
<line x1="1478.8" y1="514.0" x2="1478.8" y2="518.5" stroke="#222" stroke-width="1.2"/>
<line x1="1498.4" y1="514.0" x2="1498.4" y2="518.5" stroke="#222" stroke-width="1.2"/>
<line x1="1510.9" y1="514.0" x2="1510.9" y2="518.5" stroke="#222" stroke-width="1.2"/>
<line x1="1518.0" y1="514.0" x2="1518.0" y2="518.5" stroke="#222" stroke-width="1.2"/>
<line x1="1525.2" y1="514.0" x2="1525.2" y2="518.5" stroke="#222" stroke-width="1.2"/>
<line x1="1530.5" y1="514.0" x2="1530.5" y2="518.5" stroke="#222" stroke-width="1.2"/>
<line x1="1534.1" y1="514.0" x2="1534.1" y2="518.5" stroke="#222" stroke-width="1.2"/>
<line x1="1536.8" y1="514.0" x2="1536.8" y2="518.5" stroke="#222" stroke-width="1.2"/>
<line x1="1539.4" y1="514.0" x2="1539.4" y2="518.5" stroke="#222" stroke-width="1.2"/>
<line x1="1542.1" y1="514.0" x2="1542.1" y2="518.5" stroke="#222" stroke-width="1.2"/>
<line x1="1544.8" y1="514.0" x2="1544.8" y2="518.5" stroke="#222" stroke-width="1.2"/>
<line x1="1565.3" y1="514.0" x2="1565.3" y2="518.5" stroke="#222" stroke-width="1.2"/>
<line x1="1577.8" y1="514.0" x2="1577.8" y2="518.5" stroke="#222" stroke-width="1.2"/>
<line x1="1585.8" y1="514.0" x2="1585.8" y2="518.5" stroke="#222" stroke-width="1.2"/>
<line x1="1592.0" y1="514.0" x2="1592.0" y2="518.5" stroke="#222" stroke-width="1.2"/>
<line x1="1596.5" y1="514.0" x2="1596.5" y2="518.5" stroke="#222" stroke-width="1.2"/>
<line x1="1600.1" y1="514.0" x2="1600.1" y2="518.5" stroke="#222" stroke-width="1.2"/>
<line x1="1602.7" y1="514.0" x2="1602.7" y2="518.5" stroke="#222" stroke-width="1.2"/>
<line x1="1605.4" y1="514.0" x2="1605.4" y2="518.5" stroke="#222" stroke-width="1.2"/>
<line x1="1608.1" y1="514.0" x2="1608.1" y2="518.5" stroke="#222" stroke-width="1.2"/>
<line x1="1609.9" y1="514.0" x2="1609.9" y2="518.5" stroke="#222" stroke-width="1.2"/>
<line x1="1630.4" y1="514.0" x2="1630.4" y2="518.5" stroke="#222" stroke-width="1.2"/>
<line x1="1416.4" y1="514.0" x2="1416.4" y2="523.0" stroke="#111" stroke-width="2.4"/>
<line x1="1419.0" y1="514.0" x2="1419.0" y2="521.0" stroke="#111" stroke-width="2.4"/>
<line x1="1421.7" y1="514.0" x2="1421.7" y2="522.0" stroke="#111" stroke-width="2.4"/>
<line x1="1424.4" y1="514.0" x2="1424.4" y2="523.0" stroke="#111" stroke-width="2.4"/>
<line x1="1426.7" y1="514.0" x2="1426.7" y2="521.0" stroke="#111" stroke-width="2.4"/>
<line x1="1428.9" y1="514.0" x2="1428.9" y2="522.0" stroke="#111" stroke-width="2.4"/>
<line x1="1431.5" y1="514.0" x2="1431.5" y2="521.0" stroke="#111" stroke-width="2.4"/>
<line x1="1433.5" y1="514.0" x2="1433.5" y2="523.0" stroke="#111" stroke-width="2.4"/>
<rect x="1416.7" y="514" width="14.8" height="4.5" fill="#111"/>
<text font-size="25" x="1427.0" y="548.0" text-anchor="middle">0</text>
<text x="1470.5" y="548" font-size="25">10<tspan font-size="16" dy="-10">3</tspan></text>
<text x="1537.5" y="548" font-size="25">10<tspan font-size="16" dy="-10">4</tspan></text>
<text x="1598.5" y="548" font-size="25">10<tspan font-size="16" dy="-10">5</tspan></text>
<text font-size="34.5" x="1390.0" y="586.3">Annexin V-APC</text>
<text font-size="38.4" x="1862.0" y="94.1">dHL-60</text>
<line x1="1744.7" y1="128.4" x2="1774.7" y2="128.4" stroke="#a8c79f" stroke-width="3"/>
<text x="1784" y="139.9" font-size="29.5">Annexin V<tspan font-size="18.5" dy="-11.5">+</tspan><tspan dy="11.5">PI</tspan><tspan font-size="18.5" dy="-11.5">-</tspan></text>
<line x1="1987.3" y1="128.4" x2="2015.1" y2="128.4" stroke="#cf7f7f" stroke-width="3"/>
<text font-size="29.5" x="2022.0" y="139.9">NETs</text>
<path d="M1801.2,432.8 L1935.4,420.7 L2069.6,338.8 L2069.6,406.6 L1935.4,444.9 L1801.2,457.0 Z" fill="#f6d8bb"/>
<polyline points="1801.2,445.6 1935.4,433.5 2069.6,372.4" fill="none" stroke="#cf7f7f" stroke-width="3"/>
<polyline points="1801.2,453.0 1868.3,354.3 1935.4,295.2 2002.5,224.0 2069.6,209.3" fill="none" stroke="#cfe3ca" stroke-width="5"/>
<polyline points="1801.2,453.0 1868.3,354.3 1935.4,295.2 2002.5,224.0 2069.6,209.3" fill="none" stroke="#a6c69e" stroke-width="3"/>
<line x1="1801.2" y1="166.8" x2="1801.2" y2="505.5" stroke="#000" stroke-width="3"/>
<line x1="2069.6" y1="166.8" x2="2069.6" y2="505.5" stroke="#000" stroke-width="3"/>
<line x1="1782.6" y1="168.3" x2="2087.6" y2="168.3" stroke="#000" stroke-width="3"/>
<line x1="1782.6" y1="504.0" x2="2087.6" y2="504.0" stroke="#000" stroke-width="3"/>
<line x1="1782.6" y1="504.0" x2="1801.2" y2="504.0" stroke="#000" stroke-width="3"/>
<line x1="2069.6" y1="504.0" x2="2087.6" y2="504.0" stroke="#000" stroke-width="3"/>
<text font-size="25.5" transform="translate(1778.3 513.3) scale(1 1.04)" text-anchor="end">0</text>
<text font-size="25.5" transform="translate(2092.0 513.3) scale(1 1.04)">0</text>
<line x1="1782.6" y1="436.9" x2="1801.2" y2="436.9" stroke="#000" stroke-width="3"/>
<line x1="2069.6" y1="436.9" x2="2087.6" y2="436.9" stroke="#000" stroke-width="3"/>
<text font-size="25.5" transform="translate(1778.3 446.2) scale(1 1.04)" text-anchor="end">10</text>
<text font-size="25.5" transform="translate(2092.0 446.2) scale(1 1.04)">10</text>
<line x1="1782.6" y1="369.7" x2="1801.2" y2="369.7" stroke="#000" stroke-width="3"/>
<line x1="2069.6" y1="369.7" x2="2087.6" y2="369.7" stroke="#000" stroke-width="3"/>
<text font-size="25.5" transform="translate(1778.3 379.0) scale(1 1.04)" text-anchor="end">20</text>
<text font-size="25.5" transform="translate(2092.0 379.0) scale(1 1.04)">20</text>
<line x1="1782.6" y1="302.6" x2="1801.2" y2="302.6" stroke="#000" stroke-width="3"/>
<line x1="2069.6" y1="302.6" x2="2087.6" y2="302.6" stroke="#000" stroke-width="3"/>
<text font-size="25.5" transform="translate(1778.3 311.9) scale(1 1.04)" text-anchor="end">30</text>
<text font-size="25.5" transform="translate(2092.0 311.9) scale(1 1.04)">30</text>
<line x1="1782.6" y1="235.4" x2="1801.2" y2="235.4" stroke="#000" stroke-width="3"/>
<line x1="2069.6" y1="235.4" x2="2087.6" y2="235.4" stroke="#000" stroke-width="3"/>
<text font-size="25.5" transform="translate(1778.3 244.7) scale(1 1.04)" text-anchor="end">40</text>
<text font-size="25.5" transform="translate(2092.0 244.7) scale(1 1.04)">40</text>
<line x1="1782.6" y1="168.3" x2="1801.2" y2="168.3" stroke="#000" stroke-width="3"/>
<line x1="2069.6" y1="168.3" x2="2087.6" y2="168.3" stroke="#000" stroke-width="3"/>
<text font-size="25.5" transform="translate(1778.3 177.6) scale(1 1.04)" text-anchor="end">50</text>
<text font-size="25.5" transform="translate(2092.0 177.6) scale(1 1.04)">50</text>
<line x1="1801.2" y1="504.0" x2="1801.2" y2="515.5" stroke="#000" stroke-width="3"/>
<text font-size="25.5" transform="translate(1801.2 543.4) scale(1 1.04)" text-anchor="middle">0</text>
<line x1="1868.3" y1="504.0" x2="1868.3" y2="515.5" stroke="#000" stroke-width="3"/>
<text font-size="25.5" transform="translate(1868.3 543.4) scale(1 1.04)" text-anchor="middle">1</text>
<line x1="1935.4" y1="504.0" x2="1935.4" y2="515.5" stroke="#000" stroke-width="3"/>
<text font-size="25.5" transform="translate(1935.4 543.4) scale(1 1.04)" text-anchor="middle">2</text>
<line x1="2002.5" y1="504.0" x2="2002.5" y2="515.5" stroke="#000" stroke-width="3"/>
<text font-size="25.5" transform="translate(2002.5 543.4) scale(1 1.04)" text-anchor="middle">3</text>
<line x1="2069.6" y1="504.0" x2="2069.6" y2="515.5" stroke="#000" stroke-width="3"/>
<text font-size="25.5" transform="translate(2069.6 543.4) scale(1 1.04)" text-anchor="middle">4</text>
<circle cx="1801.2" cy="445.6" r="5.4" fill="#d89a98" stroke="#2a1a1a" stroke-width="1.1"/>
<circle cx="1935.4" cy="433.5" r="5.4" fill="#d89a98" stroke="#2a1a1a" stroke-width="1.1"/>
<circle cx="2069.6" cy="372.4" r="5.4" fill="#d89a98" stroke="#2a1a1a" stroke-width="1.1"/>
<circle cx="1801.2" cy="453.0" r="5.4" fill="#a9c6a2" stroke="#1a2a1a" stroke-width="1.1"/>
<circle cx="1868.3" cy="354.3" r="5.4" fill="#a9c6a2" stroke="#1a2a1a" stroke-width="1.1"/>
<circle cx="1935.4" cy="295.2" r="5.4" fill="#a9c6a2" stroke="#1a2a1a" stroke-width="1.1"/>
<circle cx="2002.5" cy="224.0" r="5.4" fill="#a9c6a2" stroke="#1a2a1a" stroke-width="1.1"/>
<circle cx="2069.6" cy="209.3" r="5.4" fill="#a9c6a2" stroke="#1a2a1a" stroke-width="1.1"/>
<text font-size="33.7" x="1882.0" y="584.0">Time (h)</text>
<text x="1737.8" y="341" font-size="37.3" text-anchor="middle" transform="rotate(-90 1737.8 341)">Annexin V<tspan font-size="24" dy="-14">+</tspan><tspan dy="14">PI</tspan><tspan font-size="24" dy="-14">-</tspan><tspan dy="14"> (%)</tspan></text>
<text font-size="38" transform="translate(2140.0 342.0) rotate(90)" text-anchor="middle">NETs (%)</text>
<text x="255.5" y="777.8" font-size="38.4">Human <tspan font-style="italic">XKR8</tspan> expression</text>
<rect x="193.5" y="1114.9" width="24.8" height="29.9" fill="#a6a9ab" stroke="#000" stroke-width="2.3"/>
<line x1="205.9" y1="1144.8" x2="205.9" y2="1157.5" stroke="#000" stroke-width="3"/>
<text font-size="29" transform="translate(210.9 1182.5) rotate(-45)" text-anchor="end">Basophil</text>
<rect x="232.7" y="839.9" width="24.8" height="304.9" fill="#adc6a3" stroke="#000" stroke-width="2.3"/>
<line x1="245.1" y1="1144.8" x2="245.1" y2="1157.5" stroke="#000" stroke-width="3"/>
<text font-size="29" transform="translate(250.1 1182.5) rotate(-45)" text-anchor="end">Eosinophil</text>
<rect x="271.9" y="991.6" width="24.8" height="153.2" fill="#c3a3c4" stroke="#000" stroke-width="2.3"/>
<line x1="284.3" y1="1144.8" x2="284.3" y2="1157.5" stroke="#000" stroke-width="3"/>
<text font-size="29" transform="translate(289.3 1182.5) rotate(-45)" text-anchor="end">Neutrophil</text>
<rect x="311.1" y="1127.7" width="24.8" height="17.1" fill="#8fcac6" stroke="#000" stroke-width="2.3"/>
<line x1="323.5" y1="1144.8" x2="323.5" y2="1157.5" stroke="#000" stroke-width="3"/>
<text font-size="29" transform="translate(328.5 1182.5) rotate(-45)" text-anchor="end">Classical Monocyte</text>
<rect x="350.3" y="1127.7" width="24.8" height="17.1" fill="#b7d4ec" stroke="#000" stroke-width="2.3"/>
<line x1="362.7" y1="1144.8" x2="362.7" y2="1157.5" stroke="#000" stroke-width="3"/>
<text font-size="29" transform="translate(367.7 1182.5) rotate(-45)" text-anchor="end">Intermediate Monocyte</text>
<rect x="389.5" y="1130.0" width="24.8" height="14.8" fill="#e1abcf" stroke="#000" stroke-width="2.3"/>
<line x1="401.9" y1="1144.8" x2="401.9" y2="1157.5" stroke="#000" stroke-width="3"/>
<text font-size="29" transform="translate(406.9 1182.5) rotate(-45)" text-anchor="end">Non-Classical Monocyte</text>
<rect x="428.7" y="1123.7" width="24.8" height="21.1" fill="#d6d592" stroke="#000" stroke-width="2.3"/>
<line x1="441.1" y1="1144.8" x2="441.1" y2="1157.5" stroke="#000" stroke-width="3"/>
<text font-size="29" transform="translate(446.1 1182.5) rotate(-45)" text-anchor="end">Naïve CD4 T</text>
<rect x="467.9" y="1124.9" width="24.8" height="19.9" fill="#f8ceab" stroke="#000" stroke-width="2.3"/>
<line x1="480.3" y1="1144.8" x2="480.3" y2="1157.5" stroke="#000" stroke-width="3"/>
<text font-size="29" transform="translate(485.3 1182.5) rotate(-45)" text-anchor="end">Naïve CD8 T</text>
<rect x="507.1" y="1122.8" width="24.8" height="22.0" fill="#71b8dd" stroke="#000" stroke-width="2.3"/>
<line x1="519.5" y1="1144.8" x2="519.5" y2="1157.5" stroke="#000" stroke-width="3"/>
<text font-size="29" transform="translate(524.5 1182.5) rotate(-45)" text-anchor="end">Treg</text>
<rect x="546.3" y="1121.6" width="24.8" height="23.2" fill="#d9a29a" stroke="#000" stroke-width="2.3"/>
<line x1="558.7" y1="1144.8" x2="558.7" y2="1157.5" stroke="#000" stroke-width="3"/>
<text font-size="29" transform="translate(563.7 1182.5) rotate(-45)" text-anchor="end">Memory CD4 T</text>
<rect x="585.5" y="1124.1" width="24.8" height="20.7" fill="#9bb0de" stroke="#000" stroke-width="2.3"/>
<line x1="597.9" y1="1144.8" x2="597.9" y2="1157.5" stroke="#000" stroke-width="3"/>
<text font-size="29" transform="translate(602.9 1182.5) rotate(-45)" text-anchor="end">Memory CD8 T</text>
<rect x="624.7" y="1122.8" width="24.8" height="22.0" fill="#4ba1ca" stroke="#000" stroke-width="2.3"/>
<line x1="637.1" y1="1144.8" x2="637.1" y2="1157.5" stroke="#000" stroke-width="3"/>
<text font-size="29" transform="translate(642.1 1182.5) rotate(-45)" text-anchor="end">MAIT T Cell</text>
<rect x="663.9" y="1125.9" width="24.8" height="18.9" fill="#e1e7f6" stroke="#000" stroke-width="2.3"/>
<line x1="676.3" y1="1144.8" x2="676.3" y2="1157.5" stroke="#000" stroke-width="3"/>
<text font-size="29" transform="translate(681.3 1182.5) rotate(-45)" text-anchor="end">Myeloid DC</text>
<rect x="703.1" y="1136.5" width="24.8" height="8.3" fill="#d8a196" stroke="#000" stroke-width="2.3"/>
<line x1="715.5" y1="1144.8" x2="715.5" y2="1157.5" stroke="#000" stroke-width="3"/>
<text font-size="29" transform="translate(720.5 1182.5) rotate(-45)" text-anchor="end">Plasmacytoid DC</text>
<rect x="742.3" y="1124.4" width="24.8" height="20.4" fill="#d3e9c9" stroke="#000" stroke-width="2.3"/>
<line x1="754.7" y1="1144.8" x2="754.7" y2="1157.5" stroke="#000" stroke-width="3"/>
<text font-size="29" transform="translate(759.7 1182.5) rotate(-45)" text-anchor="end">NK-Cell</text>
<line x1="179.6" y1="766.4" x2="179.6" y2="1146.3" stroke="#000" stroke-width="3"/>
<line x1="178.0" y1="1144.8" x2="783.5" y2="1144.8" stroke="#000" stroke-width="3"/>
<line x1="167.2" y1="1144.8" x2="179.6" y2="1144.8" stroke="#000" stroke-width="3"/>
<text font-size="29" transform="translate(165.0 1156.1) scale(1 1.05)" text-anchor="end">0</text>
<line x1="167.2" y1="1069.3" x2="179.6" y2="1069.3" stroke="#000" stroke-width="3"/>
<text font-size="29" transform="translate(165.0 1080.6) scale(1 1.05)" text-anchor="end">50</text>
<line x1="167.2" y1="993.8" x2="179.6" y2="993.8" stroke="#000" stroke-width="3"/>
<text font-size="29" transform="translate(165.0 1005.1) scale(1 1.05)" text-anchor="end">100</text>
<line x1="167.2" y1="918.4" x2="179.6" y2="918.4" stroke="#000" stroke-width="3"/>
<text font-size="29" transform="translate(165.0 929.7) scale(1 1.05)" text-anchor="end">150</text>
<line x1="167.2" y1="842.9" x2="179.6" y2="842.9" stroke="#000" stroke-width="3"/>
<text font-size="29" transform="translate(165.0 854.2) scale(1 1.05)" text-anchor="end">200</text>
<line x1="167.2" y1="767.4" x2="179.6" y2="767.4" stroke="#000" stroke-width="3"/>
<text font-size="29" transform="translate(165.0 778.7) scale(1 1.05)" text-anchor="end">250</text>
<text font-size="33.6" transform="translate(98.5 954.0) rotate(-90)" text-anchor="middle">Expression Level (nTPM)</text>
<text x="1360.5" y="756.9" font-size="37.6">Mouse <tspan font-style="italic">Xkr8</tspan> expression</text>
<rect x="1076.9" y="1000.8" width="19.8" height="155.2" fill="#a5a9ab" stroke="#000" stroke-width="2.3"/>
<line x1="1086.8" y1="1156.0" x2="1086.8" y2="1169.2" stroke="#000" stroke-width="3"/>
<text font-size="26.8" transform="translate(1090.8 1183.5) rotate(-45)" text-anchor="end">LTHSC_34-_BM</text>
<rect x="1108.7" y="1070.6" width="19.8" height="85.4" fill="#cfe2f3" stroke="#000" stroke-width="2.3"/>
<line x1="1118.6" y1="1156.0" x2="1118.6" y2="1169.2" stroke="#000" stroke-width="3"/>
<text font-size="26.8" transform="translate(1122.6 1183.5) rotate(-45)" text-anchor="end">MMP2_150+48+_BM</text>
<rect x="1140.5" y="1044.6" width="19.8" height="111.4" fill="#5e9470" stroke="#000" stroke-width="2.3"/>
<line x1="1150.4" y1="1156.0" x2="1150.4" y2="1169.2" stroke="#000" stroke-width="3"/>
<text font-size="26.8" transform="translate(1154.4 1183.5) rotate(-45)" text-anchor="end">proB_CLP_BM</text>
<rect x="1172.3" y="1100.7" width="19.8" height="55.3" fill="#d5e9c9" stroke="#000" stroke-width="2.3"/>
<line x1="1182.2" y1="1156.0" x2="1182.2" y2="1169.2" stroke="#000" stroke-width="3"/>
<text font-size="26.8" transform="translate(1186.2 1183.5) rotate(-45)" text-anchor="end">proB_FrBC_BM</text>
<rect x="1204.1" y="1067.4" width="19.8" height="88.6" fill="#fae4e6" stroke="#000" stroke-width="2.3"/>
<line x1="1214.0" y1="1156.0" x2="1214.0" y2="1169.2" stroke="#000" stroke-width="3"/>
<text font-size="26.8" transform="translate(1218.0 1183.5) rotate(-45)" text-anchor="end">B_Fo_Sp</text>
<rect x="1235.9" y="1102.4" width="19.8" height="53.6" fill="#eebd88" stroke="#000" stroke-width="2.3"/>
<line x1="1245.8" y1="1156.0" x2="1245.8" y2="1169.2" stroke="#000" stroke-width="3"/>
<text font-size="26.8" transform="translate(1249.8 1183.5) rotate(-45)" text-anchor="end">B_MZ_Sp</text>
<rect x="1267.7" y="1126.9" width="19.8" height="29.1" fill="#b5d2ec" stroke="#000" stroke-width="2.3"/>
<line x1="1277.6" y1="1156.0" x2="1277.6" y2="1169.2" stroke="#000" stroke-width="3"/>
<text font-size="26.8" transform="translate(1281.6 1183.5) rotate(-45)" text-anchor="end">B_GC_CC_Sp</text>
<rect x="1299.5" y="1022.5" width="19.8" height="133.5" fill="#dfa8c8" stroke="#000" stroke-width="2.3"/>
<line x1="1309.4" y1="1156.0" x2="1309.4" y2="1169.2" stroke="#000" stroke-width="3"/>
<text font-size="26.8" transform="translate(1313.4 1183.5) rotate(-45)" text-anchor="end">B_PC_Sp</text>
<rect x="1331.3" y="1087.0" width="19.8" height="69.0" fill="#d6d594" stroke="#000" stroke-width="2.3"/>
<line x1="1341.2" y1="1156.0" x2="1341.2" y2="1169.2" stroke="#000" stroke-width="3"/>
<text font-size="26.8" transform="translate(1345.2 1183.5) rotate(-45)" text-anchor="end">B1b_PC</text>
<rect x="1363.1" y="1008.0" width="19.8" height="148.0" fill="#8fa1a6" stroke="#000" stroke-width="2.3"/>
<line x1="1373.0" y1="1156.0" x2="1373.0" y2="1169.2" stroke="#000" stroke-width="3"/>
<text font-size="26.8" transform="translate(1377.0 1183.5) rotate(-45)" text-anchor="end">preT_DN1_Th</text>
<rect x="1394.9" y="1081.3" width="19.8" height="74.7" fill="#f8ecce" stroke="#000" stroke-width="2.3"/>
<line x1="1404.8" y1="1156.0" x2="1404.8" y2="1169.2" stroke="#000" stroke-width="3"/>
<text font-size="26.8" transform="translate(1408.8 1183.5) rotate(-45)" text-anchor="end">T_DP_Th</text>
<rect x="1426.7" y="1061.0" width="19.8" height="95.0" fill="#f7d49a" stroke="#000" stroke-width="2.3"/>
<line x1="1436.6" y1="1156.0" x2="1436.6" y2="1169.2" stroke="#000" stroke-width="3"/>
<text font-size="26.8" transform="translate(1440.6 1183.5) rotate(-45)" text-anchor="end">T_4_Nve_Sp</text>
<rect x="1458.5" y="1030.7" width="19.8" height="125.3" fill="#8bb8a0" stroke="#000" stroke-width="2.3"/>
<line x1="1468.4" y1="1156.0" x2="1468.4" y2="1169.2" stroke="#000" stroke-width="3"/>
<text font-size="26.8" transform="translate(1472.4 1183.5) rotate(-45)" text-anchor="end">NKT_Sp</text>
<rect x="1490.3" y="1050.8" width="19.8" height="105.2" fill="#b8bbdc" stroke="#000" stroke-width="2.3"/>
<line x1="1500.2" y1="1156.0" x2="1500.2" y2="1169.2" stroke="#000" stroke-width="3"/>
<text font-size="26.8" transform="translate(1504.2 1183.5) rotate(-45)" text-anchor="end">Treg_4_25hi_Sp</text>
<rect x="1522.1" y="1124.7" width="19.8" height="31.3" fill="#8db9db" stroke="#000" stroke-width="2.3"/>
<line x1="1532.0" y1="1156.0" x2="1532.0" y2="1169.2" stroke="#000" stroke-width="3"/>
<text font-size="26.8" transform="translate(1536.0 1183.5) rotate(-45)" text-anchor="end">T_8_Nve_Sp</text>
<rect x="1553.9" y="829.5" width="19.8" height="326.5" fill="#cd7f83" stroke="#000" stroke-width="2.3"/>
<line x1="1563.8" y1="1156.0" x2="1563.8" y2="1169.2" stroke="#000" stroke-width="3"/>
<text font-size="26.8" transform="translate(1567.8 1183.5) rotate(-45)" text-anchor="end">T8_TE_LCMV_d7_Sp</text>
<rect x="1585.7" y="1056.9" width="19.8" height="99.1" fill="#a9c8de" stroke="#000" stroke-width="2.3"/>
<line x1="1595.6" y1="1156.0" x2="1595.6" y2="1169.2" stroke="#000" stroke-width="3"/>
<text font-size="26.8" transform="translate(1599.6 1183.5) rotate(-45)" text-anchor="end">T8_Tem_LCMV_d180_Sp</text>
<rect x="1617.5" y="1069.0" width="19.8" height="87.0" fill="#9ab0de" stroke="#000" stroke-width="2.3"/>
<line x1="1627.4" y1="1156.0" x2="1627.4" y2="1169.2" stroke="#000" stroke-width="3"/>
<text font-size="26.8" transform="translate(1631.4 1183.5) rotate(-45)" text-anchor="end">Tgd_g2+d1_24a+_Th</text>
<rect x="1649.3" y="1102.0" width="19.8" height="54.0" fill="#e2e8f6" stroke="#000" stroke-width="2.3"/>
<line x1="1659.2" y1="1156.0" x2="1659.2" y2="1169.2" stroke="#000" stroke-width="3"/>
<text font-size="26.8" transform="translate(1663.2 1183.5) rotate(-45)" text-anchor="end">Tgd_g2+d17_LN</text>
<rect x="1681.1" y="1077.0" width="19.8" height="79.0" fill="#d0d3de" stroke="#000" stroke-width="2.3"/>
<line x1="1691.0" y1="1156.0" x2="1691.0" y2="1169.2" stroke="#000" stroke-width="3"/>
<text font-size="26.8" transform="translate(1695.0 1183.5) rotate(-45)" text-anchor="end">Tgd_Sp</text>
<rect x="1712.9" y="970.3" width="19.8" height="185.7" fill="#dba39f" stroke="#000" stroke-width="2.3"/>
<line x1="1722.8" y1="1156.0" x2="1722.8" y2="1169.2" stroke="#000" stroke-width="3"/>
<text font-size="26.8" transform="translate(1726.8 1183.5) rotate(-45)" text-anchor="end">NK_27-11b+_Sp</text>
<rect x="1744.7" y="1100.3" width="19.8" height="55.7" fill="#a8d39e" stroke="#000" stroke-width="2.3"/>
<line x1="1754.6" y1="1156.0" x2="1754.6" y2="1169.2" stroke="#000" stroke-width="3"/>
<text font-size="26.8" transform="translate(1758.6 1183.5) rotate(-45)" text-anchor="end">ILC2_SI</text>
<rect x="1776.5" y="1117.1" width="19.8" height="38.9" fill="#aac6dc" stroke="#000" stroke-width="2.3"/>
<line x1="1786.4" y1="1156.0" x2="1786.4" y2="1169.2" stroke="#000" stroke-width="3"/>
<text font-size="26.8" transform="translate(1790.4 1183.5) rotate(-45)" text-anchor="end">ILC3_NKp46-CCR6-_SI</text>
<rect x="1808.3" y="1109.1" width="19.8" height="46.9" fill="#72cdf2" stroke="#000" stroke-width="2.3"/>
<line x1="1818.2" y1="1156.0" x2="1818.2" y2="1169.2" stroke="#000" stroke-width="3"/>
<text font-size="26.8" transform="translate(1822.2 1183.5) rotate(-45)" text-anchor="end">ILC3_NKp46+_SI</text>
<rect x="1840.1" y="1130.0" width="19.8" height="26.0" fill="#89b6d6" stroke="#000" stroke-width="2.3"/>
<line x1="1850.0" y1="1156.0" x2="1850.0" y2="1169.2" stroke="#000" stroke-width="3"/>
<text font-size="26.8" transform="translate(1854.0 1183.5) rotate(-45)" text-anchor="end">DC_8+_Sp</text>
<rect x="1871.9" y="1085.6" width="19.8" height="70.4" fill="#f8e8c4" stroke="#000" stroke-width="2.3"/>
<line x1="1881.8" y1="1156.0" x2="1881.8" y2="1169.2" stroke="#000" stroke-width="3"/>
<text font-size="26.8" transform="translate(1885.8 1183.5) rotate(-45)" text-anchor="end">DC_pDC_Sp</text>
<rect x="1903.7" y="839.3" width="19.8" height="316.7" fill="#c45a4a" stroke="#000" stroke-width="2.3"/>
<line x1="1913.6" y1="1156.0" x2="1913.6" y2="1169.2" stroke="#000" stroke-width="3"/>
<text font-size="26.8" transform="translate(1917.6 1183.5) rotate(-45)" text-anchor="end">GN_BM</text>
<rect x="1935.5" y="1086.6" width="19.8" height="69.4" fill="#f5cd75" stroke="#000" stroke-width="2.3"/>
<line x1="1945.4" y1="1156.0" x2="1945.4" y2="1169.2" stroke="#000" stroke-width="3"/>
<text font-size="26.8" transform="translate(1949.4 1183.5) rotate(-45)" text-anchor="end">GN_Thio_PC</text>
<rect x="1967.3" y="1080.1" width="19.8" height="75.9" fill="#7e9fc0" stroke="#000" stroke-width="2.3"/>
<line x1="1977.2" y1="1156.0" x2="1977.2" y2="1169.2" stroke="#000" stroke-width="3"/>
<text font-size="26.8" transform="translate(1981.2 1183.5) rotate(-45)" text-anchor="end">MC_heparinase_PC</text>
<rect x="1999.1" y="947.6" width="19.8" height="208.4" fill="#e9b3a8" stroke="#000" stroke-width="2.3"/>
<line x1="2009.0" y1="1156.0" x2="2009.0" y2="1169.2" stroke="#000" stroke-width="3"/>
<text font-size="26.8" transform="translate(2013.0 1183.5) rotate(-45)" text-anchor="end">MF_PC</text>
<rect x="2030.9" y="1115.5" width="19.8" height="40.5" fill="#a4a4a4" stroke="#000" stroke-width="2.3"/>
<line x1="2040.8" y1="1156.0" x2="2040.8" y2="1169.2" stroke="#000" stroke-width="3"/>
<text font-size="26.8" transform="translate(2044.8 1183.5) rotate(-45)" text-anchor="end">MF_Alv_Lu</text>
<rect x="2062.7" y="1110.1" width="19.8" height="45.9" fill="#c3d8ee" stroke="#000" stroke-width="2.3"/>
<line x1="2072.6" y1="1156.0" x2="2072.6" y2="1169.2" stroke="#000" stroke-width="3"/>
<text font-size="26.8" transform="translate(2076.6 1183.5) rotate(-45)" text-anchor="end">Ep_MEChi_Th</text>
<rect x="2094.5" y="1034.8" width="19.8" height="121.2" fill="#ac9ec5" stroke="#000" stroke-width="2.3"/>
<line x1="2104.4" y1="1156.0" x2="2104.4" y2="1169.2" stroke="#000" stroke-width="3"/>
<text font-size="26.8" transform="translate(2108.4 1183.5) rotate(-45)" text-anchor="end">LEC_SLN</text>
<rect x="2126.3" y="1109.1" width="19.8" height="46.9" fill="#787878" stroke="#000" stroke-width="2.3"/>
<line x1="2136.2" y1="1156.0" x2="2136.2" y2="1169.2" stroke="#000" stroke-width="3"/>
<text font-size="26.8" transform="translate(2140.2 1183.5) rotate(-45)" text-anchor="end">IAP_SLN</text>
<line x1="1066.0" y1="764.0" x2="1066.0" y2="1157.5" stroke="#000" stroke-width="3"/>
<line x1="1064.5" y1="1156.0" x2="2160.5" y2="1156.0" stroke="#000" stroke-width="3"/>
<line x1="1053.4" y1="1156.0" x2="1066.0" y2="1156.0" stroke="#000" stroke-width="3"/>
<text font-size="27" transform="translate(1048.3 1166.0) scale(1 1.07)" text-anchor="end">0</text>
<line x1="1053.4" y1="1058.2" x2="1066.0" y2="1058.2" stroke="#000" stroke-width="3"/>
<text font-size="27" transform="translate(1048.3 1068.2) scale(1 1.07)" text-anchor="end">50</text>
<line x1="1053.4" y1="960.5" x2="1066.0" y2="960.5" stroke="#000" stroke-width="3"/>
<text font-size="27" transform="translate(1048.3 970.5) scale(1 1.07)" text-anchor="end">100</text>
<line x1="1053.4" y1="862.8" x2="1066.0" y2="862.8" stroke="#000" stroke-width="3"/>
<text font-size="27" transform="translate(1048.3 872.8) scale(1 1.07)" text-anchor="end">150</text>
<line x1="1053.4" y1="765.0" x2="1066.0" y2="765.0" stroke="#000" stroke-width="3"/>
<text font-size="27" transform="translate(1048.3 775.0) scale(1 1.07)" text-anchor="end">200</text>
<text font-size="34.2" transform="translate(944.0 957.5) rotate(-90)" text-anchor="middle">Expression Value</text>
<text font-size="34.2" transform="translate(985.5 957.5) rotate(-90)" text-anchor="middle">Normalized by DESeq2</text></svg></body></html>
